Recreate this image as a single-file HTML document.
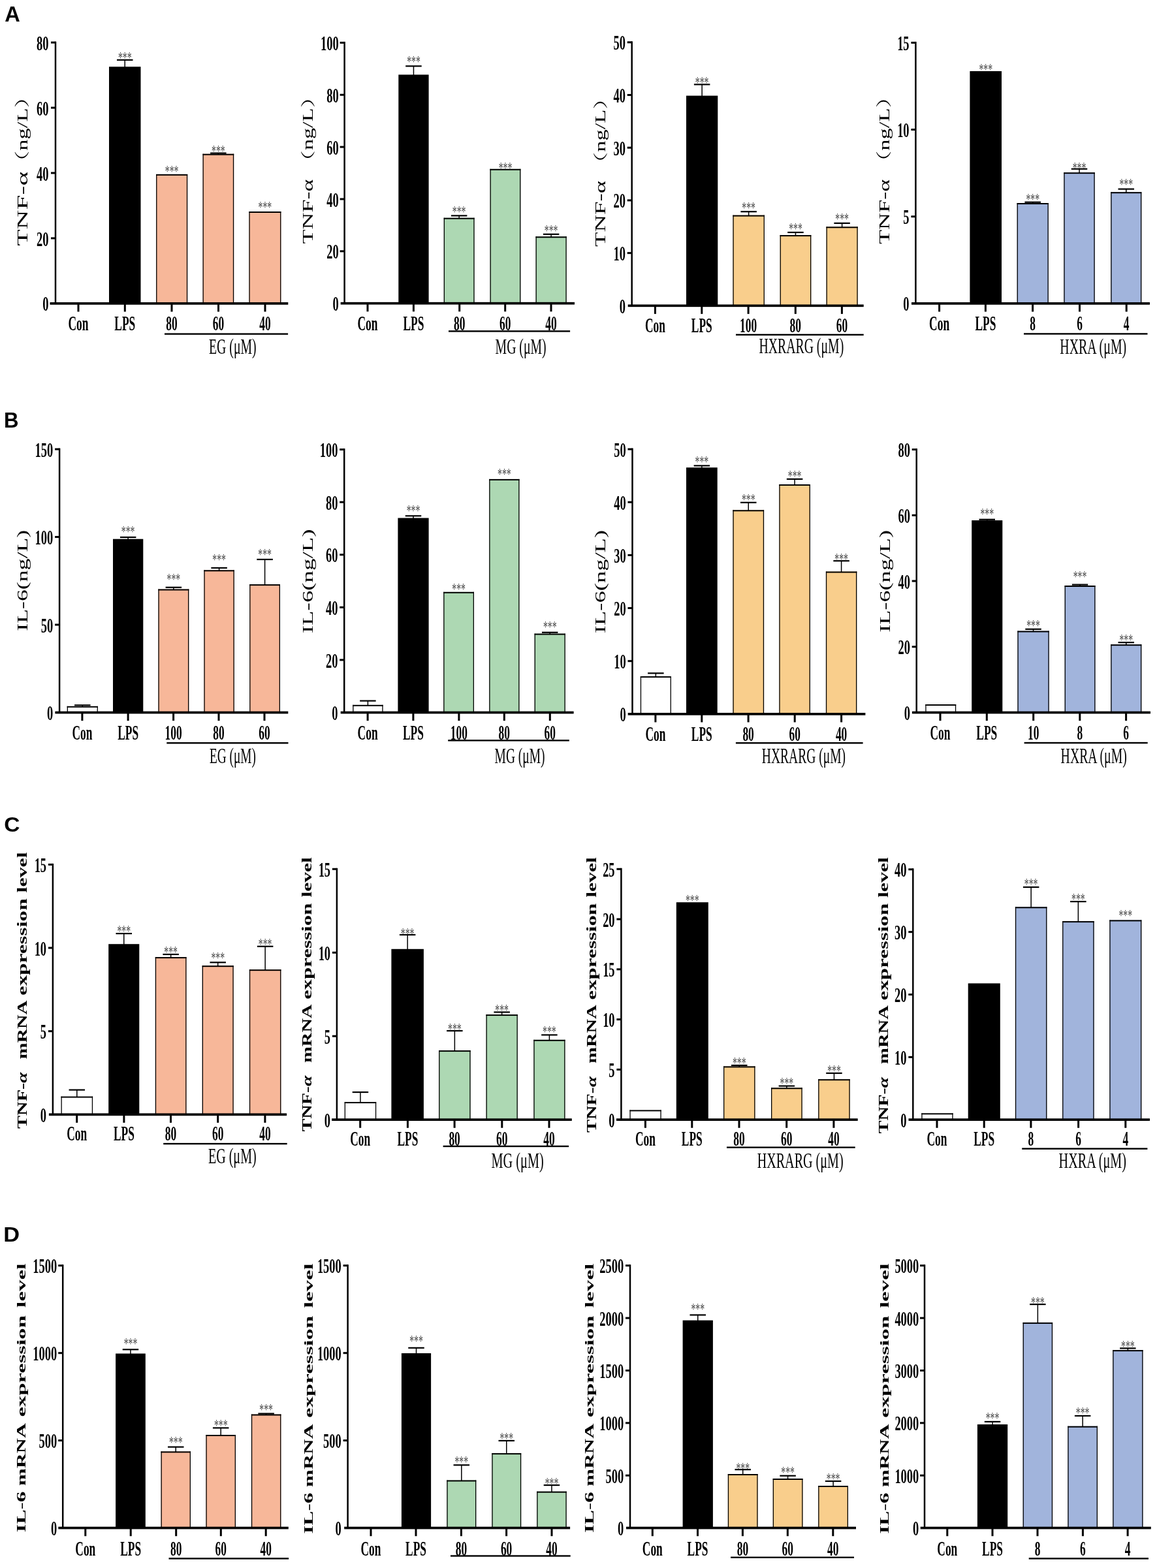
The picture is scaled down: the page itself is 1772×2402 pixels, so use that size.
<!DOCTYPE html><html><head><meta charset="utf-8"><title>Figure</title>
<style>html,body{margin:0;padding:0;background:#fff;}svg{display:block;}</style></head><body>
<svg width="1772" height="2402" viewBox="0 0 1772 2402">
<rect x="0" y="0" width="1772" height="2402" fill="#fff"/>
<text transform="matrix(0.3258,0,0,0.3338,7.2227,33.3338)" font-family="'Liberation Sans', Arial, sans-serif" font-weight="bold" font-size="100" fill="#000">A</text>
<text transform="matrix(0.3115,0,0,0.3275,6.0197,654.9)" font-family="'Liberation Sans', Arial, sans-serif" font-weight="bold" font-size="100" fill="#000">B</text>
<text transform="matrix(0.3354,0,0,0.3056,6.2585,1273.6944)" font-family="'Liberation Sans', Arial, sans-serif" font-weight="bold" font-size="100" fill="#000">C</text>
<text transform="matrix(0.3443,0,0,0.3159,5.1902,1901.9)" font-family="'Liberation Sans', Arial, sans-serif" font-weight="bold" font-size="100" fill="#000">D</text>
<g>
<rect x="167" y="102.2" width="48.5" height="362.7" fill="#000"/>
<rect x="190.5" y="91.85" width="1.5" height="11.35" fill="#000"/>
<rect x="179" y="90.75" width="24.5" height="2.2" fill="#000"/>
<rect x="239.1" y="266.9" width="48.1" height="198" fill="#F7B799"/>
<rect x="239.1" y="266.9" width="1.3" height="198" fill="#000"/>
<rect x="285.9" y="266.9" width="1.3" height="198" fill="#000"/>
<rect x="239.1" y="266.9" width="48.1" height="2" fill="#000"/>
<rect x="310.5" y="235.7" width="47.7" height="229.2" fill="#F7B799"/>
<rect x="310.5" y="235.7" width="1.3" height="229.2" fill="#000"/>
<rect x="356.9" y="235.7" width="1.3" height="229.2" fill="#000"/>
<rect x="310.5" y="235.7" width="47.7" height="2" fill="#000"/>
<rect x="333.6" y="234.6" width="1.5" height="2.1" fill="#000"/>
<rect x="322.1" y="233.5" width="24.5" height="2.2" fill="#000"/>
<rect x="381.4" y="324" width="49" height="140.9" fill="#F7B799"/>
<rect x="381.4" y="324" width="1.3" height="140.9" fill="#000"/>
<rect x="429.1" y="324" width="1.3" height="140.9" fill="#000"/>
<rect x="381.4" y="324" width="49" height="2" fill="#000"/>
<text transform="translate(191.25,97.0901) scale(0.557,1)" text-anchor="middle" font-family="'Liberation Serif', 'Times New Roman', serif" font-size="24.7" fill="#4a4a4a">***</text>
<text transform="translate(263.15,270.7901) scale(0.557,1)" text-anchor="middle" font-family="'Liberation Serif', 'Times New Roman', serif" font-size="24.7" fill="#4a4a4a">***</text>
<text transform="translate(334.35,240.2901) scale(0.557,1)" text-anchor="middle" font-family="'Liberation Serif', 'Times New Roman', serif" font-size="24.7" fill="#4a4a4a">***</text>
<text transform="translate(405.9,326.1901) scale(0.557,1)" text-anchor="middle" font-family="'Liberation Serif', 'Times New Roman', serif" font-size="24.7" fill="#4a4a4a">***</text>
<rect x="83.75" y="63.6" width="2.5" height="401.3" fill="#000"/>
<rect x="78" y="63.6" width="7" height="3.0" fill="#000"/>
<text transform="translate(74.5022,76.687) scale(0.6,1)" text-anchor="end" font-family="'Liberation Serif', 'Times New Roman', serif" font-weight="bold" font-size="30.8" fill="#000">80</text>
<rect x="78" y="163.55" width="7" height="3.0" fill="#000"/>
<text transform="translate(74.5022,176.637) scale(0.6,1)" text-anchor="end" font-family="'Liberation Serif', 'Times New Roman', serif" font-weight="bold" font-size="30.8" fill="#000">60</text>
<rect x="78" y="263.5" width="7" height="3.0" fill="#000"/>
<text transform="translate(74.5022,276.587) scale(0.6,1)" text-anchor="end" font-family="'Liberation Serif', 'Times New Roman', serif" font-weight="bold" font-size="30.8" fill="#000">40</text>
<rect x="78" y="363.45" width="7" height="3.0" fill="#000"/>
<text transform="translate(74.5022,376.537) scale(0.6,1)" text-anchor="end" font-family="'Liberation Serif', 'Times New Roman', serif" font-weight="bold" font-size="30.8" fill="#000">20</text>
<text transform="translate(74.5022,476.487) scale(0.6,1)" text-anchor="end" font-family="'Liberation Serif', 'Times New Roman', serif" font-weight="bold" font-size="30.8" fill="#000">0</text>
<rect x="76.5" y="463.05" width="364.8" height="3.7" fill="#000"/>
<rect x="118.5" y="464.9" width="3.0" height="12.6" fill="#000"/>
<rect x="189.8" y="464.9" width="3.0" height="12.6" fill="#000"/>
<rect x="261.5" y="464.9" width="3.0" height="12.6" fill="#000"/>
<rect x="333" y="464.9" width="3.0" height="12.6" fill="#000"/>
<rect x="404.5" y="464.9" width="3.0" height="12.6" fill="#000"/>
<text transform="translate(120,505.9) scale(0.562,1)" text-anchor="middle" font-family="'Liberation Serif', 'Times New Roman', serif" font-weight="bold" font-size="31.0" fill="#000">Con</text>
<text transform="translate(191.3,505.9) scale(0.562,1)" text-anchor="middle" font-family="'Liberation Serif', 'Times New Roman', serif" font-weight="bold" font-size="31.0" fill="#000">LPS</text>
<text transform="translate(263,505.9) scale(0.562,1)" text-anchor="middle" font-family="'Liberation Serif', 'Times New Roman', serif" font-weight="bold" font-size="31.0" fill="#000">80</text>
<text transform="translate(334.5,505.9) scale(0.562,1)" text-anchor="middle" font-family="'Liberation Serif', 'Times New Roman', serif" font-weight="bold" font-size="31.0" fill="#000">60</text>
<text transform="translate(406,505.9) scale(0.562,1)" text-anchor="middle" font-family="'Liberation Serif', 'Times New Roman', serif" font-weight="bold" font-size="31.0" fill="#000">40</text>
<rect x="252" y="510.4" width="189.1" height="2.4" fill="#000"/>
<text transform="translate(320.0067,542.2) scale(0.5904,1)" font-family="'Liberation Serif', 'Times New Roman', serif" font-size="33.5" fill="#000">EG (μM)</text>
<text transform="matrix(0,-0.4152,0.229,0,42.3,376.8304)" font-family="'Liberation Serif', 'Times New Roman', serif" font-weight="normal" font-size="100" fill="#000">TNF-α</text>
<text transform="matrix(0,-0.3448,0.229,0,42.3,265.1112)" font-family="'Liberation Serif', 'Noto Serif CJK SC', serif" font-weight="normal" font-size="100" fill="#000">（ng/L）</text>
</g>
<g>
<rect x="610.3" y="114.4" width="46.3" height="350.3" fill="#000"/>
<rect x="632.7" y="101.3" width="1.5" height="14.1" fill="#000"/>
<rect x="621.2" y="100.2" width="24.5" height="2.2" fill="#000"/>
<rect x="679.7" y="333.7" width="46.9" height="131" fill="#ADD8B3"/>
<rect x="679.7" y="333.7" width="1.3" height="131" fill="#000"/>
<rect x="725.3" y="333.7" width="1.3" height="131" fill="#000"/>
<rect x="679.7" y="333.7" width="46.9" height="2" fill="#000"/>
<rect x="702.4" y="330.4" width="1.5" height="4.3" fill="#000"/>
<rect x="690.9" y="329.3" width="24.5" height="2.2" fill="#000"/>
<rect x="750.5" y="258.8" width="46.9" height="205.9" fill="#ADD8B3"/>
<rect x="750.5" y="258.8" width="1.3" height="205.9" fill="#000"/>
<rect x="796.1" y="258.8" width="1.3" height="205.9" fill="#000"/>
<rect x="750.5" y="258.8" width="46.9" height="2" fill="#000"/>
<rect x="820.5" y="362.3" width="47.2" height="102.4" fill="#ADD8B3"/>
<rect x="820.5" y="362.3" width="1.3" height="102.4" fill="#000"/>
<rect x="866.4" y="362.3" width="1.3" height="102.4" fill="#000"/>
<rect x="820.5" y="362.3" width="47.2" height="2" fill="#000"/>
<rect x="843.35" y="358.8" width="1.5" height="4.5" fill="#000"/>
<rect x="831.85" y="357.7" width="24.5" height="2.2" fill="#000"/>
<text transform="translate(633.45,102.7901) scale(0.557,1)" text-anchor="middle" font-family="'Liberation Serif', 'Times New Roman', serif" font-size="24.7" fill="#4a4a4a">***</text>
<text transform="translate(703.15,332.9901) scale(0.557,1)" text-anchor="middle" font-family="'Liberation Serif', 'Times New Roman', serif" font-size="24.7" fill="#4a4a4a">***</text>
<text transform="translate(773.95,266.1901) scale(0.557,1)" text-anchor="middle" font-family="'Liberation Serif', 'Times New Roman', serif" font-size="24.7" fill="#4a4a4a">***</text>
<text transform="translate(844.1,361.5901) scale(0.557,1)" text-anchor="middle" font-family="'Liberation Serif', 'Times New Roman', serif" font-size="24.7" fill="#4a4a4a">***</text>
<rect x="526.35" y="63.9" width="2.5" height="400.8" fill="#000"/>
<rect x="520.6" y="63.9" width="7" height="3.0" fill="#000"/>
<text transform="translate(518.7022,76.987) scale(0.6,1)" text-anchor="end" font-family="'Liberation Serif', 'Times New Roman', serif" font-weight="bold" font-size="30.8" fill="#000">100</text>
<rect x="520.6" y="143.76" width="7" height="3.0" fill="#000"/>
<text transform="translate(518.7022,156.847) scale(0.6,1)" text-anchor="end" font-family="'Liberation Serif', 'Times New Roman', serif" font-weight="bold" font-size="30.8" fill="#000">80</text>
<rect x="520.6" y="223.62" width="7" height="3.0" fill="#000"/>
<text transform="translate(518.7022,236.707) scale(0.6,1)" text-anchor="end" font-family="'Liberation Serif', 'Times New Roman', serif" font-weight="bold" font-size="30.8" fill="#000">60</text>
<rect x="520.6" y="303.48" width="7" height="3.0" fill="#000"/>
<text transform="translate(518.7022,316.567) scale(0.6,1)" text-anchor="end" font-family="'Liberation Serif', 'Times New Roman', serif" font-weight="bold" font-size="30.8" fill="#000">40</text>
<rect x="520.6" y="383.34" width="7" height="3.0" fill="#000"/>
<text transform="translate(518.7022,396.427) scale(0.6,1)" text-anchor="end" font-family="'Liberation Serif', 'Times New Roman', serif" font-weight="bold" font-size="30.8" fill="#000">20</text>
<text transform="translate(518.7022,476.287) scale(0.6,1)" text-anchor="end" font-family="'Liberation Serif', 'Times New Roman', serif" font-weight="bold" font-size="30.8" fill="#000">0</text>
<rect x="521.7" y="462.85" width="358.3" height="3.7" fill="#000"/>
<rect x="561.5" y="464.7" width="3.0" height="12.6" fill="#000"/>
<rect x="631.9" y="464.7" width="3.0" height="12.6" fill="#000"/>
<rect x="702.2" y="464.7" width="3.0" height="12.6" fill="#000"/>
<rect x="772.2" y="464.7" width="3.0" height="12.6" fill="#000"/>
<rect x="842.5" y="464.7" width="3.0" height="12.6" fill="#000"/>
<text transform="translate(563,506.3) scale(0.562,1)" text-anchor="middle" font-family="'Liberation Serif', 'Times New Roman', serif" font-weight="bold" font-size="31.0" fill="#000">Con</text>
<text transform="translate(633.4,506.3) scale(0.562,1)" text-anchor="middle" font-family="'Liberation Serif', 'Times New Roman', serif" font-weight="bold" font-size="31.0" fill="#000">LPS</text>
<text transform="translate(703.7,506.3) scale(0.562,1)" text-anchor="middle" font-family="'Liberation Serif', 'Times New Roman', serif" font-weight="bold" font-size="31.0" fill="#000">80</text>
<text transform="translate(773.7,506.3) scale(0.562,1)" text-anchor="middle" font-family="'Liberation Serif', 'Times New Roman', serif" font-weight="bold" font-size="31.0" fill="#000">60</text>
<text transform="translate(844,506.3) scale(0.562,1)" text-anchor="middle" font-family="'Liberation Serif', 'Times New Roman', serif" font-weight="bold" font-size="31.0" fill="#000">40</text>
<rect x="687" y="506.2" width="186.1" height="2.4" fill="#000"/>
<text transform="translate(758.6077,542.2) scale(0.5893,1)" font-family="'Liberation Serif', 'Times New Roman', serif" font-size="33.5" fill="#000">MG (μM)</text>
<text transform="matrix(0,-0.3596,0.2214,0,479,373.4193)" font-family="'Liberation Serif', 'Times New Roman', serif" font-weight="normal" font-size="100" fill="#000">TNF-α</text>
<text transform="matrix(0,-0.3425,0.2214,0,479,264.3606)" font-family="'Liberation Serif', 'Noto Serif CJK SC', serif" font-weight="normal" font-size="100" fill="#000">（ng/L）</text>
</g>
<g>
<rect x="1051" y="146.6" width="48.3" height="321.7" fill="#000"/>
<rect x="1074.4" y="129.4" width="1.5" height="18.2" fill="#000"/>
<rect x="1062.9" y="128.3" width="24.5" height="2.2" fill="#000"/>
<rect x="1122.4" y="329.6" width="48.5" height="138.7" fill="#F9CE8C"/>
<rect x="1122.4" y="329.6" width="1.3" height="138.7" fill="#000"/>
<rect x="1169.6" y="329.6" width="1.3" height="138.7" fill="#000"/>
<rect x="1122.4" y="329.6" width="48.5" height="2" fill="#000"/>
<rect x="1145.9" y="324.2" width="1.5" height="6.4" fill="#000"/>
<rect x="1134.4" y="323.1" width="24.5" height="2.2" fill="#000"/>
<rect x="1194.6" y="360.1" width="47.7" height="108.2" fill="#F9CE8C"/>
<rect x="1194.6" y="360.1" width="1.3" height="108.2" fill="#000"/>
<rect x="1241" y="360.1" width="1.3" height="108.2" fill="#000"/>
<rect x="1194.6" y="360.1" width="47.7" height="2" fill="#000"/>
<rect x="1217.7" y="356" width="1.5" height="5.1" fill="#000"/>
<rect x="1206.2" y="354.9" width="24.5" height="2.2" fill="#000"/>
<rect x="1265.5" y="347.3" width="48.2" height="121" fill="#F9CE8C"/>
<rect x="1265.5" y="347.3" width="1.3" height="121" fill="#000"/>
<rect x="1312.4" y="347.3" width="1.3" height="121" fill="#000"/>
<rect x="1265.5" y="347.3" width="48.2" height="2" fill="#000"/>
<rect x="1288.85" y="341.9" width="1.5" height="6.4" fill="#000"/>
<rect x="1277.35" y="340.8" width="24.5" height="2.2" fill="#000"/>
<text transform="translate(1075.15,134.5901) scale(0.557,1)" text-anchor="middle" font-family="'Liberation Serif', 'Times New Roman', serif" font-size="24.7" fill="#4a4a4a">***</text>
<text transform="translate(1146.65,327.4901) scale(0.557,1)" text-anchor="middle" font-family="'Liberation Serif', 'Times New Roman', serif" font-size="24.7" fill="#4a4a4a">***</text>
<text transform="translate(1218.45,358.7901) scale(0.557,1)" text-anchor="middle" font-family="'Liberation Serif', 'Times New Roman', serif" font-size="24.7" fill="#4a4a4a">***</text>
<text transform="translate(1289.6,343.7901) scale(0.557,1)" text-anchor="middle" font-family="'Liberation Serif', 'Times New Roman', serif" font-size="24.7" fill="#4a4a4a">***</text>
<rect x="966.45" y="63.3" width="2.5" height="405" fill="#000"/>
<rect x="960.7" y="63.3" width="7" height="3.0" fill="#000"/>
<text transform="translate(958.0022,76.387) scale(0.6,1)" text-anchor="end" font-family="'Liberation Serif', 'Times New Roman', serif" font-weight="bold" font-size="30.8" fill="#000">50</text>
<rect x="960.7" y="144" width="7" height="3.0" fill="#000"/>
<text transform="translate(958.0022,157.087) scale(0.6,1)" text-anchor="end" font-family="'Liberation Serif', 'Times New Roman', serif" font-weight="bold" font-size="30.8" fill="#000">40</text>
<rect x="960.7" y="224.7" width="7" height="3.0" fill="#000"/>
<text transform="translate(958.0022,237.787) scale(0.6,1)" text-anchor="end" font-family="'Liberation Serif', 'Times New Roman', serif" font-weight="bold" font-size="30.8" fill="#000">30</text>
<rect x="960.7" y="305.4" width="7" height="3.0" fill="#000"/>
<text transform="translate(958.0022,318.487) scale(0.6,1)" text-anchor="end" font-family="'Liberation Serif', 'Times New Roman', serif" font-weight="bold" font-size="30.8" fill="#000">20</text>
<rect x="960.7" y="386.1" width="7" height="3.0" fill="#000"/>
<text transform="translate(958.0022,399.187) scale(0.6,1)" text-anchor="end" font-family="'Liberation Serif', 'Times New Roman', serif" font-weight="bold" font-size="30.8" fill="#000">10</text>
<text transform="translate(958.0022,479.887) scale(0.6,1)" text-anchor="end" font-family="'Liberation Serif', 'Times New Roman', serif" font-weight="bold" font-size="30.8" fill="#000">0</text>
<rect x="961.7" y="466.45" width="361" height="3.7" fill="#000"/>
<rect x="1001.9" y="468.3" width="3.0" height="12.6" fill="#000"/>
<rect x="1073.3" y="468.3" width="3.0" height="12.6" fill="#000"/>
<rect x="1144.6" y="468.3" width="3.0" height="12.6" fill="#000"/>
<rect x="1216.8" y="468.3" width="3.0" height="12.6" fill="#000"/>
<rect x="1287.9" y="468.3" width="3.0" height="12.6" fill="#000"/>
<text transform="translate(1003.4,509.2) scale(0.562,1)" text-anchor="middle" font-family="'Liberation Serif', 'Times New Roman', serif" font-weight="bold" font-size="31.0" fill="#000">Con</text>
<text transform="translate(1074.8,509.2) scale(0.562,1)" text-anchor="middle" font-family="'Liberation Serif', 'Times New Roman', serif" font-weight="bold" font-size="31.0" fill="#000">LPS</text>
<text transform="translate(1146.1,509.2) scale(0.562,1)" text-anchor="middle" font-family="'Liberation Serif', 'Times New Roman', serif" font-weight="bold" font-size="31.0" fill="#000">100</text>
<text transform="translate(1218.3,509.2) scale(0.562,1)" text-anchor="middle" font-family="'Liberation Serif', 'Times New Roman', serif" font-weight="bold" font-size="31.0" fill="#000">80</text>
<text transform="translate(1289.4,509.2) scale(0.562,1)" text-anchor="middle" font-family="'Liberation Serif', 'Times New Roman', serif" font-weight="bold" font-size="31.0" fill="#000">60</text>
<rect x="1127" y="511.6" width="195.7" height="2.4" fill="#000"/>
<text transform="translate(1162.4065,541.2) scale(0.5906,1)" font-family="'Liberation Serif', 'Times New Roman', serif" font-size="33.5" fill="#000">HXRARG (μM)</text>
<text transform="matrix(0,-0.3681,0.2214,0,926.8,377.9363)" font-family="'Liberation Serif', 'Times New Roman', serif" font-weight="normal" font-size="100" fill="#000">TNF-α</text>
<text transform="matrix(0,-0.3448,0.2214,0,926.8,267.3112)" font-family="'Liberation Serif', 'Noto Serif CJK SC', serif" font-weight="normal" font-size="100" fill="#000">（ng/L）</text>
</g>
<g>
<rect x="1485.4" y="109" width="48.6" height="355.9" fill="#000"/>
<rect x="1557.6" y="311" width="48.2" height="153.9" fill="#A1B4DC"/>
<rect x="1557.6" y="311" width="1.3" height="153.9" fill="#000"/>
<rect x="1604.5" y="311" width="1.3" height="153.9" fill="#000"/>
<rect x="1557.6" y="311" width="48.2" height="2" fill="#000"/>
<rect x="1580.95" y="309.7" width="1.5" height="2.3" fill="#000"/>
<rect x="1569.45" y="308.6" width="24.5" height="2.2" fill="#000"/>
<rect x="1629.3" y="264.2" width="47.4" height="200.7" fill="#A1B4DC"/>
<rect x="1629.3" y="264.2" width="1.3" height="200.7" fill="#000"/>
<rect x="1675.4" y="264.2" width="1.3" height="200.7" fill="#000"/>
<rect x="1629.3" y="264.2" width="47.4" height="2" fill="#000"/>
<rect x="1652.25" y="258.8" width="1.5" height="6.4" fill="#000"/>
<rect x="1640.75" y="257.7" width="24.5" height="2.2" fill="#000"/>
<rect x="1701.2" y="294.2" width="47.1" height="170.7" fill="#A1B4DC"/>
<rect x="1701.2" y="294.2" width="1.3" height="170.7" fill="#000"/>
<rect x="1747" y="294.2" width="1.3" height="170.7" fill="#000"/>
<rect x="1701.2" y="294.2" width="47.1" height="2" fill="#000"/>
<rect x="1724" y="289.6" width="1.5" height="5.6" fill="#000"/>
<rect x="1712.5" y="288.5" width="24.5" height="2.2" fill="#000"/>
<text transform="translate(1509.7,114.9901) scale(0.557,1)" text-anchor="middle" font-family="'Liberation Serif', 'Times New Roman', serif" font-size="24.7" fill="#4a4a4a">***</text>
<text transform="translate(1581.7,313.7901) scale(0.557,1)" text-anchor="middle" font-family="'Liberation Serif', 'Times New Roman', serif" font-size="24.7" fill="#4a4a4a">***</text>
<text transform="translate(1653,266.1901) scale(0.557,1)" text-anchor="middle" font-family="'Liberation Serif', 'Times New Roman', serif" font-size="24.7" fill="#4a4a4a">***</text>
<text transform="translate(1724.75,290.7901) scale(0.557,1)" text-anchor="middle" font-family="'Liberation Serif', 'Times New Roman', serif" font-size="24.7" fill="#4a4a4a">***</text>
<rect x="1401.15" y="63.9" width="2.5" height="401" fill="#000"/>
<rect x="1395.4" y="63.9" width="7" height="3.0" fill="#000"/>
<text transform="translate(1392.6022,76.987) scale(0.6,1)" text-anchor="end" font-family="'Liberation Serif', 'Times New Roman', serif" font-weight="bold" font-size="30.8" fill="#000">15</text>
<rect x="1395.4" y="197.0667" width="7" height="3.0" fill="#000"/>
<text transform="translate(1392.6022,210.1537) scale(0.6,1)" text-anchor="end" font-family="'Liberation Serif', 'Times New Roman', serif" font-weight="bold" font-size="30.8" fill="#000">10</text>
<rect x="1395.4" y="330.2333" width="7" height="3.0" fill="#000"/>
<text transform="translate(1392.6022,343.3203) scale(0.6,1)" text-anchor="end" font-family="'Liberation Serif', 'Times New Roman', serif" font-weight="bold" font-size="30.8" fill="#000">5</text>
<text transform="translate(1392.6022,476.487) scale(0.6,1)" text-anchor="end" font-family="'Liberation Serif', 'Times New Roman', serif" font-weight="bold" font-size="30.8" fill="#000">0</text>
<rect x="1396" y="463.05" width="365" height="3.7" fill="#000"/>
<rect x="1437.1" y="464.9" width="3.0" height="12.6" fill="#000"/>
<rect x="1507.9" y="464.9" width="3.0" height="12.6" fill="#000"/>
<rect x="1580.1" y="464.9" width="3.0" height="12.6" fill="#000"/>
<rect x="1652" y="464.9" width="3.0" height="12.6" fill="#000"/>
<rect x="1723.7" y="464.9" width="3.0" height="12.6" fill="#000"/>
<text transform="translate(1438.6,505.9) scale(0.562,1)" text-anchor="middle" font-family="'Liberation Serif', 'Times New Roman', serif" font-weight="bold" font-size="31.0" fill="#000">Con</text>
<text transform="translate(1509.4,505.9) scale(0.562,1)" text-anchor="middle" font-family="'Liberation Serif', 'Times New Roman', serif" font-weight="bold" font-size="31.0" fill="#000">LPS</text>
<text transform="translate(1581.6,505.9) scale(0.562,1)" text-anchor="middle" font-family="'Liberation Serif', 'Times New Roman', serif" font-weight="bold" font-size="31.0" fill="#000">8</text>
<text transform="translate(1653.5,505.9) scale(0.562,1)" text-anchor="middle" font-family="'Liberation Serif', 'Times New Roman', serif" font-weight="bold" font-size="31.0" fill="#000">6</text>
<text transform="translate(1725.2,505.9) scale(0.562,1)" text-anchor="middle" font-family="'Liberation Serif', 'Times New Roman', serif" font-weight="bold" font-size="31.0" fill="#000">4</text>
<rect x="1568" y="510.2" width="189.5" height="2.4" fill="#000"/>
<text transform="translate(1623.3024,542.2) scale(0.5947,1)" font-family="'Liberation Serif', 'Times New Roman', serif" font-size="33.5" fill="#000">HXRA (μM)</text>
<text transform="matrix(0,-0.3619,0.2382,0,1361.8,374.0237)" font-family="'Liberation Serif', 'Times New Roman', serif" font-weight="normal" font-size="100" fill="#000">TNF-α</text>
<text transform="matrix(0,-0.3448,0.2382,0,1361.8,265.1112)" font-family="'Liberation Serif', 'Noto Serif CJK SC', serif" font-weight="normal" font-size="100" fill="#000">（ng/L）</text>
</g>
<g>
<rect x="102.7" y="1081.8" width="47.2" height="9.7" fill="#fff"/>
<rect x="102.7" y="1081.8" width="1.3" height="9.7" fill="#000"/>
<rect x="148.6" y="1081.8" width="1.3" height="9.7" fill="#000"/>
<rect x="102.7" y="1081.8" width="47.2" height="2" fill="#000"/>
<rect x="125.55" y="1080.3" width="1.5" height="2.5" fill="#000"/>
<rect x="114.05" y="1079.2" width="24.5" height="2.2" fill="#000"/>
<rect x="173" y="825.7" width="46.3" height="265.8" fill="#000"/>
<rect x="195.4" y="823" width="1.5" height="3.7" fill="#000"/>
<rect x="183.9" y="821.9" width="24.5" height="2.2" fill="#000"/>
<rect x="242.4" y="902.5" width="46.9" height="189" fill="#F7B799"/>
<rect x="242.4" y="902.5" width="1.3" height="189" fill="#000"/>
<rect x="288" y="902.5" width="1.3" height="189" fill="#000"/>
<rect x="242.4" y="902.5" width="46.9" height="2" fill="#000"/>
<rect x="265.1" y="899.8" width="1.5" height="3.7" fill="#000"/>
<rect x="253.6" y="898.7" width="24.5" height="2.2" fill="#000"/>
<rect x="312.4" y="873.3" width="46.4" height="218.2" fill="#F7B799"/>
<rect x="312.4" y="873.3" width="1.3" height="218.2" fill="#000"/>
<rect x="357.5" y="873.3" width="1.3" height="218.2" fill="#000"/>
<rect x="312.4" y="873.3" width="46.4" height="2" fill="#000"/>
<rect x="334.85" y="870" width="1.5" height="4.3" fill="#000"/>
<rect x="323.35" y="868.9" width="24.5" height="2.2" fill="#000"/>
<rect x="382.2" y="895.1" width="46.8" height="196.4" fill="#F7B799"/>
<rect x="382.2" y="895.1" width="1.3" height="196.4" fill="#000"/>
<rect x="427.7" y="895.1" width="1.3" height="196.4" fill="#000"/>
<rect x="382.2" y="895.1" width="46.8" height="2" fill="#000"/>
<rect x="404.85" y="857" width="1.5" height="39.1" fill="#000"/>
<rect x="393.35" y="855.9" width="24.5" height="2.2" fill="#000"/>
<text transform="translate(196.15,822.9901) scale(0.557,1)" text-anchor="middle" font-family="'Liberation Serif', 'Times New Roman', serif" font-size="24.7" fill="#4a4a4a">***</text>
<text transform="translate(265.85,895.7901) scale(0.557,1)" text-anchor="middle" font-family="'Liberation Serif', 'Times New Roman', serif" font-size="24.7" fill="#4a4a4a">***</text>
<text transform="translate(335.6,865.7901) scale(0.557,1)" text-anchor="middle" font-family="'Liberation Serif', 'Times New Roman', serif" font-size="24.7" fill="#4a4a4a">***</text>
<text transform="translate(405.6,857.5901) scale(0.557,1)" text-anchor="middle" font-family="'Liberation Serif', 'Times New Roman', serif" font-size="24.7" fill="#4a4a4a">***</text>
<rect x="89.85" y="686.6" width="2.5" height="404.9" fill="#000"/>
<rect x="84.1" y="686.6" width="7" height="3.0" fill="#000"/>
<text transform="translate(81.3022,699.687) scale(0.6,1)" text-anchor="end" font-family="'Liberation Serif', 'Times New Roman', serif" font-weight="bold" font-size="30.8" fill="#000">150</text>
<rect x="84.1" y="821.0667" width="7" height="3.0" fill="#000"/>
<text transform="translate(81.3022,834.1537) scale(0.6,1)" text-anchor="end" font-family="'Liberation Serif', 'Times New Roman', serif" font-weight="bold" font-size="30.8" fill="#000">100</text>
<rect x="84.1" y="955.5333" width="7" height="3.0" fill="#000"/>
<text transform="translate(81.3022,968.6203) scale(0.6,1)" text-anchor="end" font-family="'Liberation Serif', 'Times New Roman', serif" font-weight="bold" font-size="30.8" fill="#000">50</text>
<text transform="translate(81.3022,1103.087) scale(0.6,1)" text-anchor="end" font-family="'Liberation Serif', 'Times New Roman', serif" font-weight="bold" font-size="30.8" fill="#000">0</text>
<rect x="84.4" y="1089.65" width="356.9" height="3.7" fill="#000"/>
<rect x="124.4" y="1091.5" width="3.0" height="12.6" fill="#000"/>
<rect x="194.6" y="1091.5" width="3.0" height="12.6" fill="#000"/>
<rect x="264.1" y="1091.5" width="3.0" height="12.6" fill="#000"/>
<rect x="333.5" y="1091.5" width="3.0" height="12.6" fill="#000"/>
<rect x="403.5" y="1091.5" width="3.0" height="12.6" fill="#000"/>
<text transform="translate(125.9,1132.9) scale(0.562,1)" text-anchor="middle" font-family="'Liberation Serif', 'Times New Roman', serif" font-weight="bold" font-size="31.0" fill="#000">Con</text>
<text transform="translate(196.1,1132.9) scale(0.562,1)" text-anchor="middle" font-family="'Liberation Serif', 'Times New Roman', serif" font-weight="bold" font-size="31.0" fill="#000">LPS</text>
<text transform="translate(265.6,1132.9) scale(0.562,1)" text-anchor="middle" font-family="'Liberation Serif', 'Times New Roman', serif" font-weight="bold" font-size="31.0" fill="#000">100</text>
<text transform="translate(335,1132.9) scale(0.562,1)" text-anchor="middle" font-family="'Liberation Serif', 'Times New Roman', serif" font-weight="bold" font-size="31.0" fill="#000">80</text>
<text transform="translate(405,1132.9) scale(0.562,1)" text-anchor="middle" font-family="'Liberation Serif', 'Times New Roman', serif" font-weight="bold" font-size="31.0" fill="#000">60</text>
<rect x="255.3" y="1137" width="186.2" height="2.4" fill="#000"/>
<text transform="translate(321.0208,1168.6) scale(0.5763,1)" font-family="'Liberation Serif', 'Times New Roman', serif" font-size="33.5" fill="#000">EG (μM)</text>
<text transform="matrix(0,-0.3574,0.229,0,42.2,966.6296)" font-family="'Liberation Serif', 'Times New Roman', serif" font-weight="normal" font-size="100" fill="#000">IL-6(ng/L)</text>
</g>
<g>
<rect x="540.2" y="1079.8" width="46.4" height="11.7" fill="#fff"/>
<rect x="540.2" y="1079.8" width="1.3" height="11.7" fill="#000"/>
<rect x="585.3" y="1079.8" width="1.3" height="11.7" fill="#000"/>
<rect x="540.2" y="1079.8" width="46.4" height="2" fill="#000"/>
<rect x="562.65" y="1073.6" width="1.5" height="7.2" fill="#000"/>
<rect x="551.15" y="1072.5" width="24.5" height="2.2" fill="#000"/>
<rect x="609.4" y="793.5" width="47.2" height="298" fill="#000"/>
<rect x="632.25" y="790.3" width="1.5" height="4.2" fill="#000"/>
<rect x="620.75" y="789.2" width="24.5" height="2.2" fill="#000"/>
<rect x="679.2" y="906.8" width="46.8" height="184.7" fill="#ADD8B3"/>
<rect x="679.2" y="906.8" width="1.3" height="184.7" fill="#000"/>
<rect x="724.7" y="906.8" width="1.3" height="184.7" fill="#000"/>
<rect x="679.2" y="906.8" width="46.8" height="2" fill="#000"/>
<rect x="749.2" y="733.9" width="46.3" height="357.6" fill="#ADD8B3"/>
<rect x="749.2" y="733.9" width="1.3" height="357.6" fill="#000"/>
<rect x="794.2" y="733.9" width="1.3" height="357.6" fill="#000"/>
<rect x="749.2" y="733.9" width="46.3" height="2" fill="#000"/>
<rect x="818.6" y="970.6" width="47.2" height="120.9" fill="#ADD8B3"/>
<rect x="818.6" y="970.6" width="1.3" height="120.9" fill="#000"/>
<rect x="864.5" y="970.6" width="1.3" height="120.9" fill="#000"/>
<rect x="818.6" y="970.6" width="47.2" height="2" fill="#000"/>
<rect x="841.45" y="968.8" width="1.5" height="2.8" fill="#000"/>
<rect x="829.95" y="967.7" width="24.5" height="2.2" fill="#000"/>
<text transform="translate(633,790.7901) scale(0.557,1)" text-anchor="middle" font-family="'Liberation Serif', 'Times New Roman', serif" font-size="24.7" fill="#4a4a4a">***</text>
<text transform="translate(702.6,911.2901) scale(0.557,1)" text-anchor="middle" font-family="'Liberation Serif', 'Times New Roman', serif" font-size="24.7" fill="#4a4a4a">***</text>
<text transform="translate(772.35,734.9901) scale(0.557,1)" text-anchor="middle" font-family="'Liberation Serif', 'Times New Roman', serif" font-size="24.7" fill="#4a4a4a">***</text>
<text transform="translate(842.2,969.2901) scale(0.557,1)" text-anchor="middle" font-family="'Liberation Serif', 'Times New Roman', serif" font-size="24.7" fill="#4a4a4a">***</text>
<rect x="525.95" y="687.1" width="2.5" height="404.4" fill="#000"/>
<rect x="520.2" y="687.1" width="7" height="3.0" fill="#000"/>
<text transform="translate(517.4022,700.187) scale(0.6,1)" text-anchor="end" font-family="'Liberation Serif', 'Times New Roman', serif" font-weight="bold" font-size="30.8" fill="#000">100</text>
<rect x="520.2" y="767.68" width="7" height="3.0" fill="#000"/>
<text transform="translate(517.4022,780.767) scale(0.6,1)" text-anchor="end" font-family="'Liberation Serif', 'Times New Roman', serif" font-weight="bold" font-size="30.8" fill="#000">80</text>
<rect x="520.2" y="848.26" width="7" height="3.0" fill="#000"/>
<text transform="translate(517.4022,861.347) scale(0.6,1)" text-anchor="end" font-family="'Liberation Serif', 'Times New Roman', serif" font-weight="bold" font-size="30.8" fill="#000">60</text>
<rect x="520.2" y="928.84" width="7" height="3.0" fill="#000"/>
<text transform="translate(517.4022,941.927) scale(0.6,1)" text-anchor="end" font-family="'Liberation Serif', 'Times New Roman', serif" font-weight="bold" font-size="30.8" fill="#000">40</text>
<rect x="520.2" y="1009.42" width="7" height="3.0" fill="#000"/>
<text transform="translate(517.4022,1022.507) scale(0.6,1)" text-anchor="end" font-family="'Liberation Serif', 'Times New Roman', serif" font-weight="bold" font-size="30.8" fill="#000">20</text>
<text transform="translate(517.4022,1103.087) scale(0.6,1)" text-anchor="end" font-family="'Liberation Serif', 'Times New Roman', serif" font-weight="bold" font-size="30.8" fill="#000">0</text>
<rect x="521.7" y="1089.65" width="356.9" height="3.7" fill="#000"/>
<rect x="561.6" y="1091.5" width="3.0" height="12.6" fill="#000"/>
<rect x="631.4" y="1091.5" width="3.0" height="12.6" fill="#000"/>
<rect x="701.4" y="1091.5" width="3.0" height="12.6" fill="#000"/>
<rect x="770.8" y="1091.5" width="3.0" height="12.6" fill="#000"/>
<rect x="840.8" y="1091.5" width="3.0" height="12.6" fill="#000"/>
<text transform="translate(563.1,1132.9) scale(0.562,1)" text-anchor="middle" font-family="'Liberation Serif', 'Times New Roman', serif" font-weight="bold" font-size="31.0" fill="#000">Con</text>
<text transform="translate(632.9,1132.9) scale(0.562,1)" text-anchor="middle" font-family="'Liberation Serif', 'Times New Roman', serif" font-weight="bold" font-size="31.0" fill="#000">LPS</text>
<text transform="translate(702.9,1132.9) scale(0.562,1)" text-anchor="middle" font-family="'Liberation Serif', 'Times New Roman', serif" font-weight="bold" font-size="31.0" fill="#000">100</text>
<text transform="translate(772.3,1132.9) scale(0.562,1)" text-anchor="middle" font-family="'Liberation Serif', 'Times New Roman', serif" font-weight="bold" font-size="31.0" fill="#000">80</text>
<text transform="translate(842.3,1132.9) scale(0.562,1)" text-anchor="middle" font-family="'Liberation Serif', 'Times New Roman', serif" font-weight="bold" font-size="31.0" fill="#000">60</text>
<rect x="686.2" y="1133.1" width="185.6" height="2.4" fill="#000"/>
<text transform="translate(757.6155,1168.6) scale(0.5816,1)" font-family="'Liberation Serif', 'Times New Roman', serif" font-size="33.5" fill="#000">MG (μM)</text>
<text transform="matrix(0,-0.3687,0.229,0,478.7,970.1748)" font-family="'Liberation Serif', 'Times New Roman', serif" font-weight="normal" font-size="100" fill="#000">IL-6(ng/L)</text>
</g>
<g>
<rect x="980.8" y="1036" width="47.1" height="57.8" fill="#fff"/>
<rect x="980.8" y="1036" width="1.3" height="57.8" fill="#000"/>
<rect x="1026.6" y="1036" width="1.3" height="57.8" fill="#000"/>
<rect x="980.8" y="1036" width="47.1" height="2" fill="#000"/>
<rect x="1003.6" y="1031.3" width="1.5" height="5.7" fill="#000"/>
<rect x="992.1" y="1030.2" width="24.5" height="2.2" fill="#000"/>
<rect x="1051" y="716.2" width="47.7" height="377.6" fill="#000"/>
<rect x="1074.1" y="713.4" width="1.5" height="3.8" fill="#000"/>
<rect x="1062.6" y="712.3" width="24.5" height="2.2" fill="#000"/>
<rect x="1122.4" y="781.3" width="47.7" height="312.5" fill="#F9CE8C"/>
<rect x="1122.4" y="781.3" width="1.3" height="312.5" fill="#000"/>
<rect x="1168.8" y="781.3" width="1.3" height="312.5" fill="#000"/>
<rect x="1122.4" y="781.3" width="47.7" height="2" fill="#000"/>
<rect x="1145.5" y="769.8" width="1.5" height="12.5" fill="#000"/>
<rect x="1134" y="768.7" width="24.5" height="2.2" fill="#000"/>
<rect x="1193.3" y="742" width="47.6" height="351.8" fill="#F9CE8C"/>
<rect x="1193.3" y="742" width="1.3" height="351.8" fill="#000"/>
<rect x="1239.6" y="742" width="1.3" height="351.8" fill="#000"/>
<rect x="1193.3" y="742" width="47.6" height="2" fill="#000"/>
<rect x="1216.35" y="733.9" width="1.5" height="9.1" fill="#000"/>
<rect x="1204.85" y="732.8" width="24.5" height="2.2" fill="#000"/>
<rect x="1264.9" y="875.5" width="47.4" height="218.3" fill="#F9CE8C"/>
<rect x="1264.9" y="875.5" width="1.3" height="218.3" fill="#000"/>
<rect x="1311" y="875.5" width="1.3" height="218.3" fill="#000"/>
<rect x="1264.9" y="875.5" width="47.4" height="2" fill="#000"/>
<rect x="1287.85" y="859.2" width="1.5" height="17.3" fill="#000"/>
<rect x="1276.35" y="858.1" width="24.5" height="2.2" fill="#000"/>
<text transform="translate(1074.85,715.7901) scale(0.557,1)" text-anchor="middle" font-family="'Liberation Serif', 'Times New Roman', serif" font-size="24.7" fill="#4a4a4a">***</text>
<text transform="translate(1146.25,774.4901) scale(0.557,1)" text-anchor="middle" font-family="'Liberation Serif', 'Times New Roman', serif" font-size="24.7" fill="#4a4a4a">***</text>
<text transform="translate(1217.1,738.2901) scale(0.557,1)" text-anchor="middle" font-family="'Liberation Serif', 'Times New Roman', serif" font-size="24.7" fill="#4a4a4a">***</text>
<text transform="translate(1288.6,864.8901) scale(0.557,1)" text-anchor="middle" font-family="'Liberation Serif', 'Times New Roman', serif" font-size="24.7" fill="#4a4a4a">***</text>
<rect x="967.25" y="686.6" width="2.5" height="407.2" fill="#000"/>
<rect x="961.5" y="686.6" width="7" height="3.0" fill="#000"/>
<text transform="translate(958.7022,699.687) scale(0.6,1)" text-anchor="end" font-family="'Liberation Serif', 'Times New Roman', serif" font-weight="bold" font-size="30.8" fill="#000">50</text>
<rect x="961.5" y="767.74" width="7" height="3.0" fill="#000"/>
<text transform="translate(958.7022,780.827) scale(0.6,1)" text-anchor="end" font-family="'Liberation Serif', 'Times New Roman', serif" font-weight="bold" font-size="30.8" fill="#000">40</text>
<rect x="961.5" y="848.88" width="7" height="3.0" fill="#000"/>
<text transform="translate(958.7022,861.967) scale(0.6,1)" text-anchor="end" font-family="'Liberation Serif', 'Times New Roman', serif" font-weight="bold" font-size="30.8" fill="#000">30</text>
<rect x="961.5" y="930.02" width="7" height="3.0" fill="#000"/>
<text transform="translate(958.7022,943.107) scale(0.6,1)" text-anchor="end" font-family="'Liberation Serif', 'Times New Roman', serif" font-weight="bold" font-size="30.8" fill="#000">20</text>
<rect x="961.5" y="1011.16" width="7" height="3.0" fill="#000"/>
<text transform="translate(958.7022,1024.247) scale(0.6,1)" text-anchor="end" font-family="'Liberation Serif', 'Times New Roman', serif" font-weight="bold" font-size="30.8" fill="#000">10</text>
<text transform="translate(958.7022,1105.387) scale(0.6,1)" text-anchor="end" font-family="'Liberation Serif', 'Times New Roman', serif" font-weight="bold" font-size="30.8" fill="#000">0</text>
<rect x="961.7" y="1091.95" width="363.7" height="3.7" fill="#000"/>
<rect x="1002.4" y="1093.8" width="3.0" height="12.6" fill="#000"/>
<rect x="1073.3" y="1093.8" width="3.0" height="12.6" fill="#000"/>
<rect x="1144.6" y="1093.8" width="3.0" height="12.6" fill="#000"/>
<rect x="1215.7" y="1093.8" width="3.0" height="12.6" fill="#000"/>
<rect x="1287.1" y="1093.8" width="3.0" height="12.6" fill="#000"/>
<text transform="translate(1003.9,1134.8) scale(0.562,1)" text-anchor="middle" font-family="'Liberation Serif', 'Times New Roman', serif" font-weight="bold" font-size="31.0" fill="#000">Con</text>
<text transform="translate(1074.8,1134.8) scale(0.562,1)" text-anchor="middle" font-family="'Liberation Serif', 'Times New Roman', serif" font-weight="bold" font-size="31.0" fill="#000">LPS</text>
<text transform="translate(1146.1,1134.8) scale(0.562,1)" text-anchor="middle" font-family="'Liberation Serif', 'Times New Roman', serif" font-weight="bold" font-size="31.0" fill="#000">80</text>
<text transform="translate(1217.2,1134.8) scale(0.562,1)" text-anchor="middle" font-family="'Liberation Serif', 'Times New Roman', serif" font-weight="bold" font-size="31.0" fill="#000">60</text>
<text transform="translate(1288.6,1134.8) scale(0.562,1)" text-anchor="middle" font-family="'Liberation Serif', 'Times New Roman', serif" font-weight="bold" font-size="31.0" fill="#000">40</text>
<rect x="1126.9" y="1137" width="194.7" height="2.4" fill="#000"/>
<text transform="translate(1166.8134,1168.7) scale(0.5837,1)" font-family="'Liberation Serif', 'Times New Roman', serif" font-size="33.5" fill="#000">HXRARG (μM)</text>
<text transform="matrix(0,-0.3654,0.229,0,926.9,970.1616)" font-family="'Liberation Serif', 'Times New Roman', serif" font-weight="normal" font-size="100" fill="#000">IL-6(ng/L)</text>
</g>
<g>
<rect x="1417.3" y="1079" width="46.9" height="12.5" fill="#fff"/>
<rect x="1417.3" y="1079" width="1.3" height="12.5" fill="#000"/>
<rect x="1462.9" y="1079" width="1.3" height="12.5" fill="#000"/>
<rect x="1417.3" y="1079" width="46.9" height="2" fill="#000"/>
<rect x="1488.2" y="797.1" width="47.1" height="294.4" fill="#000"/>
<rect x="1511" y="795.8" width="1.5" height="2.3" fill="#000"/>
<rect x="1499.5" y="794.7" width="24.5" height="2.2" fill="#000"/>
<rect x="1558.4" y="966.5" width="48.3" height="125" fill="#A1B4DC"/>
<rect x="1558.4" y="966.5" width="1.3" height="125" fill="#000"/>
<rect x="1605.4" y="966.5" width="1.3" height="125" fill="#000"/>
<rect x="1558.4" y="966.5" width="48.3" height="2" fill="#000"/>
<rect x="1581.8" y="963.8" width="1.5" height="3.7" fill="#000"/>
<rect x="1570.3" y="962.7" width="24.5" height="2.2" fill="#000"/>
<rect x="1630.6" y="897" width="46.9" height="194.5" fill="#A1B4DC"/>
<rect x="1630.6" y="897" width="1.3" height="194.5" fill="#000"/>
<rect x="1676.2" y="897" width="1.3" height="194.5" fill="#000"/>
<rect x="1630.6" y="897" width="46.9" height="2" fill="#000"/>
<rect x="1653.3" y="895.6" width="1.5" height="2.4" fill="#000"/>
<rect x="1641.8" y="894.5" width="24.5" height="2.2" fill="#000"/>
<rect x="1701.2" y="987.2" width="47.1" height="104.3" fill="#A1B4DC"/>
<rect x="1701.2" y="987.2" width="1.3" height="104.3" fill="#000"/>
<rect x="1747" y="987.2" width="1.3" height="104.3" fill="#000"/>
<rect x="1701.2" y="987.2" width="47.1" height="2" fill="#000"/>
<rect x="1724" y="984.2" width="1.5" height="4" fill="#000"/>
<rect x="1712.5" y="983.1" width="24.5" height="2.2" fill="#000"/>
<text transform="translate(1511.75,796.2901) scale(0.557,1)" text-anchor="middle" font-family="'Liberation Serif', 'Times New Roman', serif" font-size="24.7" fill="#4a4a4a">***</text>
<text transform="translate(1582.55,966.5901) scale(0.557,1)" text-anchor="middle" font-family="'Liberation Serif', 'Times New Roman', serif" font-size="24.7" fill="#4a4a4a">***</text>
<text transform="translate(1654.05,891.6901) scale(0.557,1)" text-anchor="middle" font-family="'Liberation Serif', 'Times New Roman', serif" font-size="24.7" fill="#4a4a4a">***</text>
<text transform="translate(1724.75,988.8901) scale(0.557,1)" text-anchor="middle" font-family="'Liberation Serif', 'Times New Roman', serif" font-size="24.7" fill="#4a4a4a">***</text>
<rect x="1402.45" y="687.1" width="2.5" height="404.4" fill="#000"/>
<rect x="1396.7" y="687.1" width="7" height="3.0" fill="#000"/>
<text transform="translate(1393.9022,700.187) scale(0.6,1)" text-anchor="end" font-family="'Liberation Serif', 'Times New Roman', serif" font-weight="bold" font-size="30.8" fill="#000">80</text>
<rect x="1396.7" y="787.825" width="7" height="3.0" fill="#000"/>
<text transform="translate(1393.9022,800.912) scale(0.6,1)" text-anchor="end" font-family="'Liberation Serif', 'Times New Roman', serif" font-weight="bold" font-size="30.8" fill="#000">60</text>
<rect x="1396.7" y="888.55" width="7" height="3.0" fill="#000"/>
<text transform="translate(1393.9022,901.637) scale(0.6,1)" text-anchor="end" font-family="'Liberation Serif', 'Times New Roman', serif" font-weight="bold" font-size="30.8" fill="#000">40</text>
<rect x="1396.7" y="989.275" width="7" height="3.0" fill="#000"/>
<text transform="translate(1393.9022,1002.362) scale(0.6,1)" text-anchor="end" font-family="'Liberation Serif', 'Times New Roman', serif" font-weight="bold" font-size="30.8" fill="#000">20</text>
<text transform="translate(1393.9022,1103.087) scale(0.6,1)" text-anchor="end" font-family="'Liberation Serif', 'Times New Roman', serif" font-weight="bold" font-size="30.8" fill="#000">0</text>
<rect x="1396.9" y="1089.65" width="365.1" height="3.7" fill="#000"/>
<rect x="1438.5" y="1091.5" width="3.0" height="12.6" fill="#000"/>
<rect x="1509.8" y="1091.5" width="3.0" height="12.6" fill="#000"/>
<rect x="1581.2" y="1091.5" width="3.0" height="12.6" fill="#000"/>
<rect x="1652.3" y="1091.5" width="3.0" height="12.6" fill="#000"/>
<rect x="1723.1" y="1091.5" width="3.0" height="12.6" fill="#000"/>
<text transform="translate(1440,1132.9) scale(0.562,1)" text-anchor="middle" font-family="'Liberation Serif', 'Times New Roman', serif" font-weight="bold" font-size="31.0" fill="#000">Con</text>
<text transform="translate(1511.3,1132.9) scale(0.562,1)" text-anchor="middle" font-family="'Liberation Serif', 'Times New Roman', serif" font-weight="bold" font-size="31.0" fill="#000">LPS</text>
<text transform="translate(1582.7,1132.9) scale(0.562,1)" text-anchor="middle" font-family="'Liberation Serif', 'Times New Roman', serif" font-weight="bold" font-size="31.0" fill="#000">10</text>
<text transform="translate(1653.8,1132.9) scale(0.562,1)" text-anchor="middle" font-family="'Liberation Serif', 'Times New Roman', serif" font-weight="bold" font-size="31.0" fill="#000">8</text>
<text transform="translate(1724.6,1132.9) scale(0.562,1)" text-anchor="middle" font-family="'Liberation Serif', 'Times New Roman', serif" font-weight="bold" font-size="31.0" fill="#000">6</text>
<rect x="1568.6" y="1136.8" width="189.1" height="2.4" fill="#000"/>
<text transform="translate(1624.6065,1168.6) scale(0.5905,1)" font-family="'Liberation Serif', 'Times New Roman', serif" font-size="33.5" fill="#000">HXRA (μM)</text>
<text transform="matrix(0,-0.3621,0.229,0,1363.4,968.7485)" font-family="'Liberation Serif', 'Times New Roman', serif" font-weight="normal" font-size="100" fill="#000">IL-6(ng/L)</text>
</g>
<g>
<rect x="93.5" y="1679.6" width="48.6" height="27.7" fill="#fff"/>
<rect x="93.5" y="1679.6" width="1.3" height="27.7" fill="#000"/>
<rect x="140.8" y="1679.6" width="1.3" height="27.7" fill="#000"/>
<rect x="93.5" y="1679.6" width="48.6" height="2" fill="#000"/>
<rect x="117.05" y="1669.6" width="1.5" height="11" fill="#000"/>
<rect x="105.55" y="1668.5" width="24.5" height="2.2" fill="#000"/>
<rect x="166.2" y="1446.2" width="47.1" height="261.1" fill="#000"/>
<rect x="189" y="1430.1" width="1.5" height="17.1" fill="#000"/>
<rect x="177.5" y="1429" width="24.5" height="2.2" fill="#000"/>
<rect x="237.8" y="1466.1" width="47.7" height="241.2" fill="#F7B799"/>
<rect x="237.8" y="1466.1" width="1.3" height="241.2" fill="#000"/>
<rect x="284.2" y="1466.1" width="1.3" height="241.2" fill="#000"/>
<rect x="237.8" y="1466.1" width="47.7" height="2" fill="#000"/>
<rect x="260.9" y="1462" width="1.5" height="5.1" fill="#000"/>
<rect x="249.4" y="1460.9" width="24.5" height="2.2" fill="#000"/>
<rect x="309.7" y="1479.2" width="48" height="228.1" fill="#F7B799"/>
<rect x="309.7" y="1479.2" width="1.3" height="228.1" fill="#000"/>
<rect x="356.4" y="1479.2" width="1.3" height="228.1" fill="#000"/>
<rect x="309.7" y="1479.2" width="48" height="2" fill="#000"/>
<rect x="332.95" y="1474.3" width="1.5" height="5.9" fill="#000"/>
<rect x="321.45" y="1473.2" width="24.5" height="2.2" fill="#000"/>
<rect x="381.9" y="1485.2" width="48.5" height="222.1" fill="#F7B799"/>
<rect x="381.9" y="1485.2" width="1.3" height="222.1" fill="#000"/>
<rect x="429.1" y="1485.2" width="1.3" height="222.1" fill="#000"/>
<rect x="381.9" y="1485.2" width="48.5" height="2" fill="#000"/>
<rect x="405.4" y="1449.8" width="1.5" height="36.4" fill="#000"/>
<rect x="393.9" y="1448.7" width="24.5" height="2.2" fill="#000"/>
<text transform="translate(189.75,1435.3901) scale(0.557,1)" text-anchor="middle" font-family="'Liberation Serif', 'Times New Roman', serif" font-size="24.7" fill="#4a4a4a">***</text>
<text transform="translate(261.65,1466.7901) scale(0.557,1)" text-anchor="middle" font-family="'Liberation Serif', 'Times New Roman', serif" font-size="24.7" fill="#4a4a4a">***</text>
<text transform="translate(333.7,1476.2901) scale(0.557,1)" text-anchor="middle" font-family="'Liberation Serif', 'Times New Roman', serif" font-size="24.7" fill="#4a4a4a">***</text>
<text transform="translate(406.15,1454.9901) scale(0.557,1)" text-anchor="middle" font-family="'Liberation Serif', 'Times New Roman', serif" font-size="24.7" fill="#4a4a4a">***</text>
<rect x="79.65" y="1322.9" width="2.5" height="384.4" fill="#000"/>
<rect x="73.9" y="1322.9" width="7" height="3.0" fill="#000"/>
<text transform="translate(71.1022,1335.987) scale(0.6,1)" text-anchor="end" font-family="'Liberation Serif', 'Times New Roman', serif" font-weight="bold" font-size="30.8" fill="#000">15</text>
<rect x="73.9" y="1450.5333" width="7" height="3.0" fill="#000"/>
<text transform="translate(71.1022,1463.6203) scale(0.6,1)" text-anchor="end" font-family="'Liberation Serif', 'Times New Roman', serif" font-weight="bold" font-size="30.8" fill="#000">10</text>
<rect x="73.9" y="1578.1667" width="7" height="3.0" fill="#000"/>
<text transform="translate(71.1022,1591.2537) scale(0.6,1)" text-anchor="end" font-family="'Liberation Serif', 'Times New Roman', serif" font-weight="bold" font-size="30.8" fill="#000">5</text>
<text transform="translate(71.1022,1718.887) scale(0.6,1)" text-anchor="end" font-family="'Liberation Serif', 'Times New Roman', serif" font-weight="bold" font-size="30.8" fill="#000">0</text>
<rect x="74.9" y="1705.45" width="364.2" height="3.7" fill="#000"/>
<rect x="116.2" y="1707.3" width="3.0" height="12.6" fill="#000"/>
<rect x="188.4" y="1707.3" width="3.0" height="12.6" fill="#000"/>
<rect x="260" y="1707.3" width="3.0" height="12.6" fill="#000"/>
<rect x="332.2" y="1707.3" width="3.0" height="12.6" fill="#000"/>
<rect x="404.4" y="1707.3" width="3.0" height="12.6" fill="#000"/>
<text transform="translate(117.7,1747.2) scale(0.562,1)" text-anchor="middle" font-family="'Liberation Serif', 'Times New Roman', serif" font-weight="bold" font-size="31.0" fill="#000">Con</text>
<text transform="translate(189.9,1747.2) scale(0.562,1)" text-anchor="middle" font-family="'Liberation Serif', 'Times New Roman', serif" font-weight="bold" font-size="31.0" fill="#000">LPS</text>
<text transform="translate(261.5,1747.2) scale(0.562,1)" text-anchor="middle" font-family="'Liberation Serif', 'Times New Roman', serif" font-weight="bold" font-size="31.0" fill="#000">80</text>
<text transform="translate(333.7,1747.2) scale(0.562,1)" text-anchor="middle" font-family="'Liberation Serif', 'Times New Roman', serif" font-weight="bold" font-size="31.0" fill="#000">60</text>
<text transform="translate(405.9,1747.2) scale(0.562,1)" text-anchor="middle" font-family="'Liberation Serif', 'Times New Roman', serif" font-weight="bold" font-size="31.0" fill="#000">40</text>
<rect x="250.2" y="1750.9" width="189.5" height="2.4" fill="#000"/>
<text transform="translate(318.8975,1781.6) scale(0.5995,1)" font-family="'Liberation Serif', 'Times New Roman', serif" font-size="33.5" fill="#000">EG (μM)</text>
<text transform="matrix(0,-0.3003,0.2092,0,41.1,1729.0006)" font-family="'Liberation Serif', 'Times New Roman', serif" font-weight="bold" font-size="100" fill="#000">TNF-<tspan font-style="italic">α</tspan></text>
<text transform="matrix(0,-0.3005,0.2092,0,41.1,1622.6201)" font-family="'Liberation Serif', 'Times New Roman', serif" font-weight="bold" font-size="100" fill="#000">mRNA</text>
<text transform="matrix(0,-0.3317,0.2092,0,41.1,1524.9897)" font-family="'Liberation Serif', 'Times New Roman', serif" font-weight="bold" font-size="100" fill="#000">expression</text>
<text transform="matrix(0,-0.3188,0.2092,0,41.1,1367.4198)" font-family="'Liberation Serif', 'Times New Roman', serif" font-weight="bold" font-size="100" fill="#000">level</text>
</g>
<g>
<rect x="527.7" y="1688.1" width="48.5" height="27.1" fill="#fff"/>
<rect x="527.7" y="1688.1" width="1.3" height="27.1" fill="#000"/>
<rect x="574.9" y="1688.1" width="1.3" height="27.1" fill="#000"/>
<rect x="527.7" y="1688.1" width="48.5" height="2" fill="#000"/>
<rect x="551.2" y="1673.1" width="1.5" height="16" fill="#000"/>
<rect x="539.7" y="1672" width="24.5" height="2.2" fill="#000"/>
<rect x="599.4" y="1453.8" width="49.5" height="261.4" fill="#000"/>
<rect x="623.4" y="1432" width="1.5" height="22.8" fill="#000"/>
<rect x="611.9" y="1430.9" width="24.5" height="2.2" fill="#000"/>
<rect x="672.1" y="1609.1" width="48.5" height="106.1" fill="#ADD8B3"/>
<rect x="672.1" y="1609.1" width="1.3" height="106.1" fill="#000"/>
<rect x="719.3" y="1609.1" width="1.3" height="106.1" fill="#000"/>
<rect x="672.1" y="1609.1" width="48.5" height="2" fill="#000"/>
<rect x="695.6" y="1579.1" width="1.5" height="31" fill="#000"/>
<rect x="684.1" y="1578" width="24.5" height="2.2" fill="#000"/>
<rect x="744.5" y="1554.1" width="48.3" height="161.1" fill="#ADD8B3"/>
<rect x="744.5" y="1554.1" width="1.3" height="161.1" fill="#000"/>
<rect x="791.5" y="1554.1" width="1.3" height="161.1" fill="#000"/>
<rect x="744.5" y="1554.1" width="48.3" height="2" fill="#000"/>
<rect x="767.9" y="1550.5" width="1.5" height="4.6" fill="#000"/>
<rect x="756.4" y="1549.4" width="24.5" height="2.2" fill="#000"/>
<rect x="817.3" y="1592.8" width="48.2" height="122.4" fill="#ADD8B3"/>
<rect x="817.3" y="1592.8" width="1.3" height="122.4" fill="#000"/>
<rect x="864.2" y="1592.8" width="1.3" height="122.4" fill="#000"/>
<rect x="817.3" y="1592.8" width="48.2" height="2" fill="#000"/>
<rect x="840.65" y="1585.4" width="1.5" height="8.4" fill="#000"/>
<rect x="829.15" y="1584.3" width="24.5" height="2.2" fill="#000"/>
<text transform="translate(624.15,1439.4901) scale(0.557,1)" text-anchor="middle" font-family="'Liberation Serif', 'Times New Roman', serif" font-size="24.7" fill="#4a4a4a">***</text>
<text transform="translate(696.35,1585.1901) scale(0.557,1)" text-anchor="middle" font-family="'Liberation Serif', 'Times New Roman', serif" font-size="24.7" fill="#4a4a4a">***</text>
<text transform="translate(768.65,1556.0901) scale(0.557,1)" text-anchor="middle" font-family="'Liberation Serif', 'Times New Roman', serif" font-size="24.7" fill="#4a4a4a">***</text>
<text transform="translate(841.4,1588.7901) scale(0.557,1)" text-anchor="middle" font-family="'Liberation Serif', 'Times New Roman', serif" font-size="24.7" fill="#4a4a4a">***</text>
<rect x="514.65" y="1329.8" width="2.5" height="385.4" fill="#000"/>
<rect x="508.9" y="1329.8" width="7" height="3.0" fill="#000"/>
<text transform="translate(506.1022,1342.887) scale(0.6,1)" text-anchor="end" font-family="'Liberation Serif', 'Times New Roman', serif" font-weight="bold" font-size="30.8" fill="#000">15</text>
<rect x="508.9" y="1457.7667" width="7" height="3.0" fill="#000"/>
<text transform="translate(506.1022,1470.8537) scale(0.6,1)" text-anchor="end" font-family="'Liberation Serif', 'Times New Roman', serif" font-weight="bold" font-size="30.8" fill="#000">10</text>
<rect x="508.9" y="1585.7333" width="7" height="3.0" fill="#000"/>
<text transform="translate(506.1022,1598.8203) scale(0.6,1)" text-anchor="end" font-family="'Liberation Serif', 'Times New Roman', serif" font-weight="bold" font-size="30.8" fill="#000">5</text>
<text transform="translate(506.1022,1726.787) scale(0.6,1)" text-anchor="end" font-family="'Liberation Serif', 'Times New Roman', serif" font-weight="bold" font-size="30.8" fill="#000">0</text>
<rect x="508.1" y="1713.35" width="367.7" height="3.7" fill="#000"/>
<rect x="550.2" y="1715.2" width="3.0" height="12.6" fill="#000"/>
<rect x="622.9" y="1715.2" width="3.0" height="12.6" fill="#000"/>
<rect x="694.6" y="1715.2" width="3.0" height="12.6" fill="#000"/>
<rect x="767.3" y="1715.2" width="3.0" height="12.6" fill="#000"/>
<rect x="839.5" y="1715.2" width="3.0" height="12.6" fill="#000"/>
<text transform="translate(551.7,1754.9) scale(0.562,1)" text-anchor="middle" font-family="'Liberation Serif', 'Times New Roman', serif" font-weight="bold" font-size="31.0" fill="#000">Con</text>
<text transform="translate(624.4,1754.9) scale(0.562,1)" text-anchor="middle" font-family="'Liberation Serif', 'Times New Roman', serif" font-weight="bold" font-size="31.0" fill="#000">LPS</text>
<text transform="translate(696.1,1754.9) scale(0.562,1)" text-anchor="middle" font-family="'Liberation Serif', 'Times New Roman', serif" font-weight="bold" font-size="31.0" fill="#000">80</text>
<text transform="translate(768.8,1754.9) scale(0.562,1)" text-anchor="middle" font-family="'Liberation Serif', 'Times New Roman', serif" font-weight="bold" font-size="31.0" fill="#000">60</text>
<text transform="translate(841,1754.9) scale(0.562,1)" text-anchor="middle" font-family="'Liberation Serif', 'Times New Roman', serif" font-weight="bold" font-size="31.0" fill="#000">40</text>
<rect x="678.6" y="1754.8" width="192.5" height="2.4" fill="#000"/>
<text transform="translate(752.5923,1789) scale(0.6047,1)" font-family="'Liberation Serif', 'Times New Roman', serif" font-size="33.5" fill="#000">MG (μM)</text>
<text transform="matrix(0,-0.2982,0.2092,0,476.8,1733.5963)" font-family="'Liberation Serif', 'Times New Roman', serif" font-weight="bold" font-size="100" fill="#000">TNF-<tspan font-style="italic">α</tspan></text>
<text transform="matrix(0,-0.2983,0.2092,0,476.8,1627.9712)" font-family="'Liberation Serif', 'Times New Roman', serif" font-weight="bold" font-size="100" fill="#000">mRNA</text>
<text transform="matrix(0,-0.3294,0.2092,0,476.8,1531.034)" font-family="'Liberation Serif', 'Times New Roman', serif" font-weight="bold" font-size="100" fill="#000">expression</text>
<text transform="matrix(0,-0.3165,0.2092,0,476.8,1374.5829)" font-family="'Liberation Serif', 'Times New Roman', serif" font-weight="bold" font-size="100" fill="#000">level</text>
</g>
<g>
<rect x="964.4" y="1700.4" width="48.3" height="14.8" fill="#fff"/>
<rect x="964.4" y="1700.4" width="1.3" height="14.8" fill="#000"/>
<rect x="1011.4" y="1700.4" width="1.3" height="14.8" fill="#000"/>
<rect x="964.4" y="1700.4" width="48.3" height="2" fill="#000"/>
<rect x="1035.8" y="1382.2" width="49" height="333" fill="#000"/>
<rect x="1108" y="1633.4" width="48.5" height="81.8" fill="#F9CE8C"/>
<rect x="1108" y="1633.4" width="1.3" height="81.8" fill="#000"/>
<rect x="1155.2" y="1633.4" width="1.3" height="81.8" fill="#000"/>
<rect x="1108" y="1633.4" width="48.5" height="2" fill="#000"/>
<rect x="1131.5" y="1632" width="1.5" height="2.4" fill="#000"/>
<rect x="1120" y="1630.9" width="24.5" height="2.2" fill="#000"/>
<rect x="1181" y="1666.3" width="47.7" height="48.9" fill="#F9CE8C"/>
<rect x="1181" y="1666.3" width="1.3" height="48.9" fill="#000"/>
<rect x="1227.4" y="1666.3" width="1.3" height="48.9" fill="#000"/>
<rect x="1181" y="1666.3" width="47.7" height="2" fill="#000"/>
<rect x="1204.1" y="1663.6" width="1.5" height="3.7" fill="#000"/>
<rect x="1192.6" y="1662.5" width="24.5" height="2.2" fill="#000"/>
<rect x="1253.2" y="1653.2" width="48.5" height="62" fill="#F9CE8C"/>
<rect x="1253.2" y="1653.2" width="1.3" height="62" fill="#000"/>
<rect x="1300.4" y="1653.2" width="1.3" height="62" fill="#000"/>
<rect x="1253.2" y="1653.2" width="48.5" height="2" fill="#000"/>
<rect x="1276.7" y="1644" width="1.5" height="10.2" fill="#000"/>
<rect x="1265.2" y="1642.9" width="24.5" height="2.2" fill="#000"/>
<text transform="translate(1060.3,1387.7901) scale(0.557,1)" text-anchor="middle" font-family="'Liberation Serif', 'Times New Roman', serif" font-size="24.7" fill="#4a4a4a">***</text>
<text transform="translate(1132.25,1636.9901) scale(0.557,1)" text-anchor="middle" font-family="'Liberation Serif', 'Times New Roman', serif" font-size="24.7" fill="#4a4a4a">***</text>
<text transform="translate(1204.85,1668.2901) scale(0.557,1)" text-anchor="middle" font-family="'Liberation Serif', 'Times New Roman', serif" font-size="24.7" fill="#4a4a4a">***</text>
<text transform="translate(1277.45,1649.1901) scale(0.557,1)" text-anchor="middle" font-family="'Liberation Serif', 'Times New Roman', serif" font-size="24.7" fill="#4a4a4a">***</text>
<rect x="950.15" y="1329.8" width="2.5" height="385.4" fill="#000"/>
<rect x="944.4" y="1329.8" width="7" height="3.0" fill="#000"/>
<text transform="translate(941.6022,1342.887) scale(0.6,1)" text-anchor="end" font-family="'Liberation Serif', 'Times New Roman', serif" font-weight="bold" font-size="30.8" fill="#000">25</text>
<rect x="944.4" y="1406.58" width="7" height="3.0" fill="#000"/>
<text transform="translate(941.6022,1419.667) scale(0.6,1)" text-anchor="end" font-family="'Liberation Serif', 'Times New Roman', serif" font-weight="bold" font-size="30.8" fill="#000">20</text>
<rect x="944.4" y="1483.36" width="7" height="3.0" fill="#000"/>
<text transform="translate(941.6022,1496.447) scale(0.6,1)" text-anchor="end" font-family="'Liberation Serif', 'Times New Roman', serif" font-weight="bold" font-size="30.8" fill="#000">15</text>
<rect x="944.4" y="1560.14" width="7" height="3.0" fill="#000"/>
<text transform="translate(941.6022,1573.227) scale(0.6,1)" text-anchor="end" font-family="'Liberation Serif', 'Times New Roman', serif" font-weight="bold" font-size="30.8" fill="#000">10</text>
<rect x="944.4" y="1636.92" width="7" height="3.0" fill="#000"/>
<text transform="translate(941.6022,1650.007) scale(0.6,1)" text-anchor="end" font-family="'Liberation Serif', 'Times New Roman', serif" font-weight="bold" font-size="30.8" fill="#000">5</text>
<text transform="translate(941.6022,1726.787) scale(0.6,1)" text-anchor="end" font-family="'Liberation Serif', 'Times New Roman', serif" font-weight="bold" font-size="30.8" fill="#000">0</text>
<rect x="944" y="1713.35" width="369.7" height="3.7" fill="#000"/>
<rect x="986.9" y="1715.2" width="3.0" height="12.6" fill="#000"/>
<rect x="1058.3" y="1715.2" width="3.0" height="12.6" fill="#000"/>
<rect x="1130.5" y="1715.2" width="3.0" height="12.6" fill="#000"/>
<rect x="1203.2" y="1715.2" width="3.0" height="12.6" fill="#000"/>
<rect x="1275.4" y="1715.2" width="3.0" height="12.6" fill="#000"/>
<text transform="translate(988.4,1754.9) scale(0.562,1)" text-anchor="middle" font-family="'Liberation Serif', 'Times New Roman', serif" font-weight="bold" font-size="31.0" fill="#000">Con</text>
<text transform="translate(1059.8,1754.9) scale(0.562,1)" text-anchor="middle" font-family="'Liberation Serif', 'Times New Roman', serif" font-weight="bold" font-size="31.0" fill="#000">LPS</text>
<text transform="translate(1132,1754.9) scale(0.562,1)" text-anchor="middle" font-family="'Liberation Serif', 'Times New Roman', serif" font-weight="bold" font-size="31.0" fill="#000">80</text>
<text transform="translate(1204.7,1754.9) scale(0.562,1)" text-anchor="middle" font-family="'Liberation Serif', 'Times New Roman', serif" font-weight="bold" font-size="31.0" fill="#000">60</text>
<text transform="translate(1276.9,1754.9) scale(0.562,1)" text-anchor="middle" font-family="'Liberation Serif', 'Times New Roman', serif" font-weight="bold" font-size="31.0" fill="#000">40</text>
<rect x="1113" y="1756.5" width="196.7" height="2.4" fill="#000"/>
<text transform="translate(1159.6968,1789) scale(0.6002,1)" font-family="'Liberation Serif', 'Times New Roman', serif" font-size="33.5" fill="#000">HXRARG (μM)</text>
<text transform="matrix(0,-0.2992,0.2092,0,912.7,1734.9983)" font-family="'Liberation Serif', 'Times New Roman', serif" font-weight="bold" font-size="100" fill="#000">TNF-<tspan font-style="italic">α</tspan></text>
<text transform="matrix(0,-0.2993,0.2092,0,912.7,1629.0207)" font-family="'Liberation Serif', 'Times New Roman', serif" font-weight="bold" font-size="100" fill="#000">mRNA</text>
<text transform="matrix(0,-0.3305,0.2092,0,912.7,1531.76)" font-family="'Liberation Serif', 'Times New Roman', serif" font-weight="bold" font-size="100" fill="#000">expression</text>
<text transform="matrix(0,-0.3175,0.2092,0,912.7,1374.7868)" font-family="'Liberation Serif', 'Times New Roman', serif" font-weight="bold" font-size="100" fill="#000">level</text>
</g>
<g>
<rect x="1411.3" y="1705.3" width="48.3" height="9.9" fill="#fff"/>
<rect x="1411.3" y="1705.3" width="1.3" height="9.9" fill="#000"/>
<rect x="1458.3" y="1705.3" width="1.3" height="9.9" fill="#000"/>
<rect x="1411.3" y="1705.3" width="48.3" height="2" fill="#000"/>
<rect x="1482.7" y="1506.4" width="49.1" height="208.8" fill="#000"/>
<rect x="1554.9" y="1389.3" width="48.5" height="325.9" fill="#A1B4DC"/>
<rect x="1554.9" y="1389.3" width="1.3" height="325.9" fill="#000"/>
<rect x="1602.1" y="1389.3" width="1.3" height="325.9" fill="#000"/>
<rect x="1554.9" y="1389.3" width="48.5" height="2" fill="#000"/>
<rect x="1578.4" y="1359" width="1.5" height="31.3" fill="#000"/>
<rect x="1566.9" y="1357.9" width="24.5" height="2.2" fill="#000"/>
<rect x="1627.1" y="1411.1" width="48.5" height="304.1" fill="#A1B4DC"/>
<rect x="1627.1" y="1411.1" width="1.3" height="304.1" fill="#000"/>
<rect x="1674.3" y="1411.1" width="1.3" height="304.1" fill="#000"/>
<rect x="1627.1" y="1411.1" width="48.5" height="2" fill="#000"/>
<rect x="1650.6" y="1381.1" width="1.5" height="31" fill="#000"/>
<rect x="1639.1" y="1380" width="24.5" height="2.2" fill="#000"/>
<rect x="1699.3" y="1409.4" width="49" height="305.8" fill="#A1B4DC"/>
<rect x="1699.3" y="1409.4" width="1.3" height="305.8" fill="#000"/>
<rect x="1747" y="1409.4" width="1.3" height="305.8" fill="#000"/>
<rect x="1699.3" y="1409.4" width="49" height="2" fill="#000"/>
<text transform="translate(1579.15,1363.1901) scale(0.557,1)" text-anchor="middle" font-family="'Liberation Serif', 'Times New Roman', serif" font-size="24.7" fill="#4a4a4a">***</text>
<text transform="translate(1651.35,1385.7901) scale(0.557,1)" text-anchor="middle" font-family="'Liberation Serif', 'Times New Roman', serif" font-size="24.7" fill="#4a4a4a">***</text>
<text transform="translate(1723.8,1410.8901) scale(0.557,1)" text-anchor="middle" font-family="'Liberation Serif', 'Times New Roman', serif" font-size="24.7" fill="#4a4a4a">***</text>
<rect x="1397.05" y="1330.3" width="2.5" height="384.9" fill="#000"/>
<rect x="1391.3" y="1330.3" width="7" height="3.0" fill="#000"/>
<text transform="translate(1388.5022,1343.387) scale(0.6,1)" text-anchor="end" font-family="'Liberation Serif', 'Times New Roman', serif" font-weight="bold" font-size="30.8" fill="#000">40</text>
<rect x="1391.3" y="1426.15" width="7" height="3.0" fill="#000"/>
<text transform="translate(1388.5022,1439.237) scale(0.6,1)" text-anchor="end" font-family="'Liberation Serif', 'Times New Roman', serif" font-weight="bold" font-size="30.8" fill="#000">30</text>
<rect x="1391.3" y="1522" width="7" height="3.0" fill="#000"/>
<text transform="translate(1388.5022,1535.087) scale(0.6,1)" text-anchor="end" font-family="'Liberation Serif', 'Times New Roman', serif" font-weight="bold" font-size="30.8" fill="#000">20</text>
<rect x="1391.3" y="1617.85" width="7" height="3.0" fill="#000"/>
<text transform="translate(1388.5022,1630.937) scale(0.6,1)" text-anchor="end" font-family="'Liberation Serif', 'Times New Roman', serif" font-weight="bold" font-size="30.8" fill="#000">10</text>
<text transform="translate(1388.5022,1726.787) scale(0.6,1)" text-anchor="end" font-family="'Liberation Serif', 'Times New Roman', serif" font-weight="bold" font-size="30.8" fill="#000">0</text>
<rect x="1391.5" y="1713.35" width="369.5" height="3.7" fill="#000"/>
<rect x="1433.5" y="1715.2" width="3.0" height="12.6" fill="#000"/>
<rect x="1505.7" y="1715.2" width="3.0" height="12.6" fill="#000"/>
<rect x="1577.4" y="1715.2" width="3.0" height="12.6" fill="#000"/>
<rect x="1650.1" y="1715.2" width="3.0" height="12.6" fill="#000"/>
<rect x="1722.3" y="1715.2" width="3.0" height="12.6" fill="#000"/>
<text transform="translate(1435,1754.6) scale(0.562,1)" text-anchor="middle" font-family="'Liberation Serif', 'Times New Roman', serif" font-weight="bold" font-size="31.0" fill="#000">Con</text>
<text transform="translate(1507.2,1754.6) scale(0.562,1)" text-anchor="middle" font-family="'Liberation Serif', 'Times New Roman', serif" font-weight="bold" font-size="31.0" fill="#000">LPS</text>
<text transform="translate(1578.9,1754.6) scale(0.562,1)" text-anchor="middle" font-family="'Liberation Serif', 'Times New Roman', serif" font-weight="bold" font-size="31.0" fill="#000">8</text>
<text transform="translate(1651.6,1754.6) scale(0.562,1)" text-anchor="middle" font-family="'Liberation Serif', 'Times New Roman', serif" font-weight="bold" font-size="31.0" fill="#000">6</text>
<text transform="translate(1723.8,1754.6) scale(0.562,1)" text-anchor="middle" font-family="'Liberation Serif', 'Times New Roman', serif" font-weight="bold" font-size="31.0" fill="#000">4</text>
<rect x="1565.2" y="1758.5" width="192.2" height="2.4" fill="#000"/>
<text transform="translate(1621.5947,1789) scale(0.6023,1)" font-family="'Liberation Serif', 'Times New Roman', serif" font-size="33.5" fill="#000">HXRA (μM)</text>
<text transform="matrix(0,-0.3002,0.2092,0,1359.5,1736.4003)" font-family="'Liberation Serif', 'Times New Roman', serif" font-weight="bold" font-size="100" fill="#000">TNF-<tspan font-style="italic">α</tspan></text>
<text transform="matrix(0,-0.3003,0.2092,0,1359.5,1630.0702)" font-family="'Liberation Serif', 'Times New Roman', serif" font-weight="bold" font-size="100" fill="#000">mRNA</text>
<text transform="matrix(0,-0.3316,0.2092,0,1359.5,1532.4859)" font-family="'Liberation Serif', 'Times New Roman', serif" font-weight="bold" font-size="100" fill="#000">expression</text>
<text transform="matrix(0,-0.3186,0.2092,0,1359.5,1374.9906)" font-family="'Liberation Serif', 'Times New Roman', serif" font-weight="bold" font-size="100" fill="#000">level</text>
</g>
<g>
<rect x="177.1" y="2073.5" width="45.7" height="267.1" fill="#000"/>
<rect x="199.2" y="2067.3" width="1.5" height="7.2" fill="#000"/>
<rect x="187.7" y="2066.2" width="24.5" height="2.2" fill="#000"/>
<rect x="246.5" y="2223.4" width="45.5" height="117.2" fill="#F7B799"/>
<rect x="246.5" y="2223.4" width="1.3" height="117.2" fill="#000"/>
<rect x="290.7" y="2223.4" width="1.3" height="117.2" fill="#000"/>
<rect x="246.5" y="2223.4" width="45.5" height="2" fill="#000"/>
<rect x="268.5" y="2216.6" width="1.5" height="7.8" fill="#000"/>
<rect x="257" y="2215.5" width="24.5" height="2.2" fill="#000"/>
<rect x="315.4" y="2198" width="45.6" height="142.6" fill="#F7B799"/>
<rect x="315.4" y="2198" width="1.3" height="142.6" fill="#000"/>
<rect x="359.7" y="2198" width="1.3" height="142.6" fill="#000"/>
<rect x="315.4" y="2198" width="45.6" height="2" fill="#000"/>
<rect x="337.45" y="2187.4" width="1.5" height="11.6" fill="#000"/>
<rect x="325.95" y="2186.3" width="24.5" height="2.2" fill="#000"/>
<rect x="384.9" y="2166.5" width="45.5" height="174.1" fill="#F7B799"/>
<rect x="384.9" y="2166.5" width="1.3" height="174.1" fill="#000"/>
<rect x="429.1" y="2166.5" width="1.3" height="174.1" fill="#000"/>
<rect x="384.9" y="2166.5" width="45.5" height="2" fill="#000"/>
<rect x="406.9" y="2165.5" width="1.5" height="2" fill="#000"/>
<rect x="395.4" y="2164.4" width="24.5" height="2.2" fill="#000"/>
<text transform="translate(199.95,2067.3901) scale(0.557,1)" text-anchor="middle" font-family="'Liberation Serif', 'Times New Roman', serif" font-size="24.7" fill="#4a4a4a">***</text>
<text transform="translate(269.25,2217.9901) scale(0.557,1)" text-anchor="middle" font-family="'Liberation Serif', 'Times New Roman', serif" font-size="24.7" fill="#4a4a4a">***</text>
<text transform="translate(338.2,2192.0901) scale(0.557,1)" text-anchor="middle" font-family="'Liberation Serif', 'Times New Roman', serif" font-size="24.7" fill="#4a4a4a">***</text>
<text transform="translate(407.65,2168.0901) scale(0.557,1)" text-anchor="middle" font-family="'Liberation Serif', 'Times New Roman', serif" font-size="24.7" fill="#4a4a4a">***</text>
<rect x="94.95" y="1937.2" width="2.5" height="403.4" fill="#000"/>
<rect x="89.2" y="1937.2" width="7" height="3.0" fill="#000"/>
<text transform="translate(87.2022,1950.287) scale(0.6,1)" text-anchor="end" font-family="'Liberation Serif', 'Times New Roman', serif" font-weight="bold" font-size="30.8" fill="#000">1500</text>
<rect x="89.2" y="2071.1667" width="7" height="3.0" fill="#000"/>
<text transform="translate(87.2022,2084.2537) scale(0.6,1)" text-anchor="end" font-family="'Liberation Serif', 'Times New Roman', serif" font-weight="bold" font-size="30.8" fill="#000">1000</text>
<rect x="89.2" y="2205.1333" width="7" height="3.0" fill="#000"/>
<text transform="translate(87.2022,2218.2203) scale(0.6,1)" text-anchor="end" font-family="'Liberation Serif', 'Times New Roman', serif" font-weight="bold" font-size="30.8" fill="#000">500</text>
<text transform="translate(87.2022,2352.187) scale(0.6,1)" text-anchor="end" font-family="'Liberation Serif', 'Times New Roman', serif" font-weight="bold" font-size="30.8" fill="#000">0</text>
<rect x="89.3" y="2338.75" width="352.5" height="3.7" fill="#000"/>
<rect x="129.3" y="2340.6" width="3.0" height="12.6" fill="#000"/>
<rect x="198.7" y="2340.6" width="3.0" height="12.6" fill="#000"/>
<rect x="268.2" y="2340.6" width="3.0" height="12.6" fill="#000"/>
<rect x="336.8" y="2340.6" width="3.0" height="12.6" fill="#000"/>
<rect x="405.7" y="2340.6" width="3.0" height="12.6" fill="#000"/>
<text transform="translate(130.8,2382.6) scale(0.562,1)" text-anchor="middle" font-family="'Liberation Serif', 'Times New Roman', serif" font-weight="bold" font-size="31.0" fill="#000">Con</text>
<text transform="translate(200.2,2382.6) scale(0.562,1)" text-anchor="middle" font-family="'Liberation Serif', 'Times New Roman', serif" font-weight="bold" font-size="31.0" fill="#000">LPS</text>
<text transform="translate(269.7,2382.6) scale(0.562,1)" text-anchor="middle" font-family="'Liberation Serif', 'Times New Roman', serif" font-weight="bold" font-size="31.0" fill="#000">80</text>
<text transform="translate(338.3,2382.6) scale(0.562,1)" text-anchor="middle" font-family="'Liberation Serif', 'Times New Roman', serif" font-weight="bold" font-size="31.0" fill="#000">60</text>
<text transform="translate(407.2,2382.6) scale(0.562,1)" text-anchor="middle" font-family="'Liberation Serif', 'Times New Roman', serif" font-weight="bold" font-size="31.0" fill="#000">40</text>
<rect x="258.5" y="2386.3" width="183.7" height="2.4" fill="#000"/>
<text transform="matrix(0,-0.3327,0.1985,0,39.2,2347.3982)" font-family="'Liberation Serif', 'Times New Roman', serif" font-weight="bold" font-size="100" fill="#000">IL-6</text>
<text transform="matrix(0,-0.3203,0.1985,0,39.2,2275.9575)" font-family="'Liberation Serif', 'Times New Roman', serif" font-weight="bold" font-size="100" fill="#000">mRNA</text>
<text transform="matrix(0,-0.3471,0.1985,0,39.2,2170.5547)" font-family="'Liberation Serif', 'Times New Roman', serif" font-weight="bold" font-size="100" fill="#000">expression</text>
<text transform="matrix(0,-0.3498,0.1985,0,39.2,2003.3041)" font-family="'Liberation Serif', 'Times New Roman', serif" font-weight="bold" font-size="100" fill="#000">level</text>
</g>
<g>
<rect x="614.9" y="2073" width="45.2" height="267.6" fill="#000"/>
<rect x="636.75" y="2064.8" width="1.5" height="9.2" fill="#000"/>
<rect x="625.25" y="2063.7" width="24.5" height="2.2" fill="#000"/>
<rect x="684.3" y="2267.5" width="45" height="73.1" fill="#ADD8B3"/>
<rect x="684.3" y="2267.5" width="1.3" height="73.1" fill="#000"/>
<rect x="728" y="2267.5" width="1.3" height="73.1" fill="#000"/>
<rect x="684.3" y="2267.5" width="45" height="2" fill="#000"/>
<rect x="706.05" y="2244.3" width="1.5" height="24.2" fill="#000"/>
<rect x="694.55" y="2243.2" width="24.5" height="2.2" fill="#000"/>
<rect x="753.3" y="2226.1" width="44.9" height="114.5" fill="#ADD8B3"/>
<rect x="753.3" y="2226.1" width="1.3" height="114.5" fill="#000"/>
<rect x="796.9" y="2226.1" width="1.3" height="114.5" fill="#000"/>
<rect x="753.3" y="2226.1" width="44.9" height="2" fill="#000"/>
<rect x="775" y="2207" width="1.5" height="20.1" fill="#000"/>
<rect x="763.5" y="2205.9" width="24.5" height="2.2" fill="#000"/>
<rect x="822.2" y="2284.7" width="45.5" height="55.9" fill="#ADD8B3"/>
<rect x="822.2" y="2284.7" width="1.3" height="55.9" fill="#000"/>
<rect x="866.4" y="2284.7" width="1.3" height="55.9" fill="#000"/>
<rect x="822.2" y="2284.7" width="45.5" height="2" fill="#000"/>
<rect x="844.2" y="2275.1" width="1.5" height="10.6" fill="#000"/>
<rect x="832.7" y="2274" width="24.5" height="2.2" fill="#000"/>
<text transform="translate(637.5,2063.3901) scale(0.557,1)" text-anchor="middle" font-family="'Liberation Serif', 'Times New Roman', serif" font-size="24.7" fill="#4a4a4a">***</text>
<text transform="translate(706.8,2247.9901) scale(0.557,1)" text-anchor="middle" font-family="'Liberation Serif', 'Times New Roman', serif" font-size="24.7" fill="#4a4a4a">***</text>
<text transform="translate(775.75,2212.2901) scale(0.557,1)" text-anchor="middle" font-family="'Liberation Serif', 'Times New Roman', serif" font-size="24.7" fill="#4a4a4a">***</text>
<text transform="translate(844.95,2280.5901) scale(0.557,1)" text-anchor="middle" font-family="'Liberation Serif', 'Times New Roman', serif" font-size="24.7" fill="#4a4a4a">***</text>
<rect x="531.35" y="1937.2" width="2.5" height="403.4" fill="#000"/>
<rect x="525.6" y="1937.2" width="7" height="3.0" fill="#000"/>
<text transform="translate(522.8022,1950.287) scale(0.6,1)" text-anchor="end" font-family="'Liberation Serif', 'Times New Roman', serif" font-weight="bold" font-size="30.8" fill="#000">1500</text>
<rect x="525.6" y="2071.1667" width="7" height="3.0" fill="#000"/>
<text transform="translate(522.8022,2084.2537) scale(0.6,1)" text-anchor="end" font-family="'Liberation Serif', 'Times New Roman', serif" font-weight="bold" font-size="30.8" fill="#000">1000</text>
<rect x="525.6" y="2205.1333" width="7" height="3.0" fill="#000"/>
<text transform="translate(522.8022,2218.2203) scale(0.6,1)" text-anchor="end" font-family="'Liberation Serif', 'Times New Roman', serif" font-weight="bold" font-size="30.8" fill="#000">500</text>
<text transform="translate(522.8022,2352.187) scale(0.6,1)" text-anchor="end" font-family="'Liberation Serif', 'Times New Roman', serif" font-weight="bold" font-size="30.8" fill="#000">0</text>
<rect x="527.2" y="2338.75" width="345.9" height="3.7" fill="#000"/>
<rect x="566.5" y="2340.6" width="3.0" height="12.6" fill="#000"/>
<rect x="635.5" y="2340.6" width="3.0" height="12.6" fill="#000"/>
<rect x="704.9" y="2340.6" width="3.0" height="12.6" fill="#000"/>
<rect x="774.1" y="2340.6" width="3.0" height="12.6" fill="#000"/>
<rect x="843.5" y="2340.6" width="3.0" height="12.6" fill="#000"/>
<text transform="translate(568,2382.6) scale(0.562,1)" text-anchor="middle" font-family="'Liberation Serif', 'Times New Roman', serif" font-weight="bold" font-size="31.0" fill="#000">Con</text>
<text transform="translate(637,2382.6) scale(0.562,1)" text-anchor="middle" font-family="'Liberation Serif', 'Times New Roman', serif" font-weight="bold" font-size="31.0" fill="#000">LPS</text>
<text transform="translate(706.4,2382.6) scale(0.562,1)" text-anchor="middle" font-family="'Liberation Serif', 'Times New Roman', serif" font-weight="bold" font-size="31.0" fill="#000">80</text>
<text transform="translate(775.6,2382.6) scale(0.562,1)" text-anchor="middle" font-family="'Liberation Serif', 'Times New Roman', serif" font-weight="bold" font-size="31.0" fill="#000">60</text>
<text transform="translate(845,2382.6) scale(0.562,1)" text-anchor="middle" font-family="'Liberation Serif', 'Times New Roman', serif" font-weight="bold" font-size="31.0" fill="#000">40</text>
<rect x="690" y="2382.3" width="183.7" height="2.4" fill="#000"/>
<text transform="matrix(0,-0.3344,0.1985,0,478.5,2349.7033)" font-family="'Liberation Serif', 'Times New Roman', serif" font-weight="bold" font-size="100" fill="#000">IL-6</text>
<text transform="matrix(0,-0.3219,0.1985,0,478.5,2277.8973)" font-family="'Liberation Serif', 'Times New Roman', serif" font-weight="bold" font-size="100" fill="#000">mRNA</text>
<text transform="matrix(0,-0.3488,0.1985,0,478.5,2171.9554)" font-family="'Liberation Serif', 'Times New Roman', serif" font-weight="bold" font-size="100" fill="#000">expression</text>
<text transform="matrix(0,-0.3516,0.1985,0,478.5,2003.8494)" font-family="'Liberation Serif', 'Times New Roman', serif" font-weight="bold" font-size="100" fill="#000">level</text>
</g>
<g>
<rect x="1045.6" y="2022.6" width="46.3" height="318" fill="#000"/>
<rect x="1068" y="2014.4" width="1.5" height="9.2" fill="#000"/>
<rect x="1056.5" y="2013.3" width="24.5" height="2.2" fill="#000"/>
<rect x="1114.8" y="2258" width="45.8" height="82.6" fill="#F9CE8C"/>
<rect x="1114.8" y="2258" width="1.3" height="82.6" fill="#000"/>
<rect x="1159.3" y="2258" width="1.3" height="82.6" fill="#000"/>
<rect x="1114.8" y="2258" width="45.8" height="2" fill="#000"/>
<rect x="1136.95" y="2251.2" width="1.5" height="7.8" fill="#000"/>
<rect x="1125.45" y="2250.1" width="24.5" height="2.2" fill="#000"/>
<rect x="1183.7" y="2265" width="45.8" height="75.6" fill="#F9CE8C"/>
<rect x="1183.7" y="2265" width="1.3" height="75.6" fill="#000"/>
<rect x="1228.2" y="2265" width="1.3" height="75.6" fill="#000"/>
<rect x="1183.7" y="2265" width="45.8" height="2" fill="#000"/>
<rect x="1205.85" y="2260.7" width="1.5" height="5.3" fill="#000"/>
<rect x="1194.35" y="2259.6" width="24.5" height="2.2" fill="#000"/>
<rect x="1253.2" y="2276" width="45.8" height="64.6" fill="#F9CE8C"/>
<rect x="1253.2" y="2276" width="1.3" height="64.6" fill="#000"/>
<rect x="1297.7" y="2276" width="1.3" height="64.6" fill="#000"/>
<rect x="1253.2" y="2276" width="45.8" height="2" fill="#000"/>
<rect x="1275.35" y="2269" width="1.5" height="8" fill="#000"/>
<rect x="1263.85" y="2267.9" width="24.5" height="2.2" fill="#000"/>
<text transform="translate(1068.75,2013.6901) scale(0.557,1)" text-anchor="middle" font-family="'Liberation Serif', 'Times New Roman', serif" font-size="24.7" fill="#4a4a4a">***</text>
<text transform="translate(1137.7,2257.9901) scale(0.557,1)" text-anchor="middle" font-family="'Liberation Serif', 'Times New Roman', serif" font-size="24.7" fill="#4a4a4a">***</text>
<text transform="translate(1206.6,2263.9901) scale(0.557,1)" text-anchor="middle" font-family="'Liberation Serif', 'Times New Roman', serif" font-size="24.7" fill="#4a4a4a">***</text>
<text transform="translate(1276.1,2273.7901) scale(0.557,1)" text-anchor="middle" font-family="'Liberation Serif', 'Times New Roman', serif" font-size="24.7" fill="#4a4a4a">***</text>
<rect x="963.75" y="1937.2" width="2.5" height="403.4" fill="#000"/>
<rect x="958" y="1937.2" width="7" height="3.0" fill="#000"/>
<text transform="translate(955.2022,1950.287) scale(0.6,1)" text-anchor="end" font-family="'Liberation Serif', 'Times New Roman', serif" font-weight="bold" font-size="30.8" fill="#000">2500</text>
<rect x="958" y="2017.58" width="7" height="3.0" fill="#000"/>
<text transform="translate(955.2022,2030.667) scale(0.6,1)" text-anchor="end" font-family="'Liberation Serif', 'Times New Roman', serif" font-weight="bold" font-size="30.8" fill="#000">2000</text>
<rect x="958" y="2097.96" width="7" height="3.0" fill="#000"/>
<text transform="translate(955.2022,2111.047) scale(0.6,1)" text-anchor="end" font-family="'Liberation Serif', 'Times New Roman', serif" font-weight="bold" font-size="30.8" fill="#000">1500</text>
<rect x="958" y="2178.34" width="7" height="3.0" fill="#000"/>
<text transform="translate(955.2022,2191.427) scale(0.6,1)" text-anchor="end" font-family="'Liberation Serif', 'Times New Roman', serif" font-weight="bold" font-size="30.8" fill="#000">1000</text>
<rect x="958" y="2258.72" width="7" height="3.0" fill="#000"/>
<text transform="translate(955.2022,2271.807) scale(0.6,1)" text-anchor="end" font-family="'Liberation Serif', 'Times New Roman', serif" font-weight="bold" font-size="30.8" fill="#000">500</text>
<text transform="translate(955.2022,2352.187) scale(0.6,1)" text-anchor="end" font-family="'Liberation Serif', 'Times New Roman', serif" font-weight="bold" font-size="30.8" fill="#000">0</text>
<rect x="959" y="2338.75" width="352" height="3.7" fill="#000"/>
<rect x="997.8" y="2340.6" width="3.0" height="12.6" fill="#000"/>
<rect x="1067" y="2340.6" width="3.0" height="12.6" fill="#000"/>
<rect x="1135.9" y="2340.6" width="3.0" height="12.6" fill="#000"/>
<rect x="1204.8" y="2340.6" width="3.0" height="12.6" fill="#000"/>
<rect x="1274.3" y="2340.6" width="3.0" height="12.6" fill="#000"/>
<text transform="translate(999.3,2382.6) scale(0.562,1)" text-anchor="middle" font-family="'Liberation Serif', 'Times New Roman', serif" font-weight="bold" font-size="31.0" fill="#000">Con</text>
<text transform="translate(1068.5,2382.6) scale(0.562,1)" text-anchor="middle" font-family="'Liberation Serif', 'Times New Roman', serif" font-weight="bold" font-size="31.0" fill="#000">LPS</text>
<text transform="translate(1137.4,2382.6) scale(0.562,1)" text-anchor="middle" font-family="'Liberation Serif', 'Times New Roman', serif" font-weight="bold" font-size="31.0" fill="#000">80</text>
<text transform="translate(1206.3,2382.6) scale(0.562,1)" text-anchor="middle" font-family="'Liberation Serif', 'Times New Roman', serif" font-weight="bold" font-size="31.0" fill="#000">60</text>
<text transform="translate(1275.8,2382.6) scale(0.562,1)" text-anchor="middle" font-family="'Liberation Serif', 'Times New Roman', serif" font-weight="bold" font-size="31.0" fill="#000">40</text>
<rect x="1119.1" y="2384.6" width="188.9" height="2.4" fill="#000"/>
<text transform="matrix(0,-0.3333,0.1985,0,908.6,2348.2999)" font-family="'Liberation Serif', 'Times New Roman', serif" font-weight="bold" font-size="100" fill="#000">IL-6</text>
<text transform="matrix(0,-0.3208,0.1985,0,908.6,2276.7375)" font-family="'Liberation Serif', 'Times New Roman', serif" font-weight="bold" font-size="100" fill="#000">mRNA</text>
<text transform="matrix(0,-0.3477,0.1985,0,908.6,2171.1549)" font-family="'Liberation Serif', 'Times New Roman', serif" font-weight="bold" font-size="100" fill="#000">expression</text>
<text transform="matrix(0,-0.3504,0.1985,0,908.6,2003.6192)" font-family="'Liberation Serif', 'Times New Roman', serif" font-weight="bold" font-size="100" fill="#000">level</text>
</g>
<g>
<rect x="1496.9" y="2182" width="46.3" height="158.6" fill="#000"/>
<rect x="1519.3" y="2177.9" width="1.5" height="5.1" fill="#000"/>
<rect x="1507.8" y="2176.8" width="24.5" height="2.2" fill="#000"/>
<rect x="1566.6" y="2025.9" width="45.5" height="314.7" fill="#A1B4DC"/>
<rect x="1566.6" y="2025.9" width="1.3" height="314.7" fill="#000"/>
<rect x="1610.8" y="2025.9" width="1.3" height="314.7" fill="#000"/>
<rect x="1566.6" y="2025.9" width="45.5" height="2" fill="#000"/>
<rect x="1588.6" y="1998.1" width="1.5" height="28.8" fill="#000"/>
<rect x="1577.1" y="1997" width="24.5" height="2.2" fill="#000"/>
<rect x="1635.3" y="2184.7" width="45.7" height="155.9" fill="#A1B4DC"/>
<rect x="1635.3" y="2184.7" width="1.3" height="155.9" fill="#000"/>
<rect x="1679.7" y="2184.7" width="1.3" height="155.9" fill="#000"/>
<rect x="1635.3" y="2184.7" width="45.7" height="2" fill="#000"/>
<rect x="1657.4" y="2168.9" width="1.5" height="16.8" fill="#000"/>
<rect x="1645.9" y="2167.8" width="24.5" height="2.2" fill="#000"/>
<rect x="1704.2" y="2068.1" width="46.3" height="272.5" fill="#A1B4DC"/>
<rect x="1704.2" y="2068.1" width="1.3" height="272.5" fill="#000"/>
<rect x="1749.2" y="2068.1" width="1.3" height="272.5" fill="#000"/>
<rect x="1704.2" y="2068.1" width="46.3" height="2" fill="#000"/>
<rect x="1726.6" y="2065.4" width="1.5" height="3.7" fill="#000"/>
<rect x="1715.1" y="2064.3" width="24.5" height="2.2" fill="#000"/>
<text transform="translate(1520.05,2180.9901) scale(0.557,1)" text-anchor="middle" font-family="'Liberation Serif', 'Times New Roman', serif" font-size="24.7" fill="#4a4a4a">***</text>
<text transform="translate(1589.35,2003.8901) scale(0.557,1)" text-anchor="middle" font-family="'Liberation Serif', 'Times New Roman', serif" font-size="24.7" fill="#4a4a4a">***</text>
<text transform="translate(1658.15,2172.7901) scale(0.557,1)" text-anchor="middle" font-family="'Liberation Serif', 'Times New Roman', serif" font-size="24.7" fill="#4a4a4a">***</text>
<text transform="translate(1727.35,2070.8901) scale(0.557,1)" text-anchor="middle" font-family="'Liberation Serif', 'Times New Roman', serif" font-size="24.7" fill="#4a4a4a">***</text>
<rect x="1414.75" y="1937.2" width="2.5" height="403.4" fill="#000"/>
<rect x="1409" y="1937.2" width="7" height="3.0" fill="#000"/>
<text transform="translate(1407.3022,1950.287) scale(0.6,1)" text-anchor="end" font-family="'Liberation Serif', 'Times New Roman', serif" font-weight="bold" font-size="30.8" fill="#000">5000</text>
<rect x="1409" y="2017.58" width="7" height="3.0" fill="#000"/>
<text transform="translate(1407.3022,2030.667) scale(0.6,1)" text-anchor="end" font-family="'Liberation Serif', 'Times New Roman', serif" font-weight="bold" font-size="30.8" fill="#000">4000</text>
<rect x="1409" y="2097.96" width="7" height="3.0" fill="#000"/>
<text transform="translate(1407.3022,2111.047) scale(0.6,1)" text-anchor="end" font-family="'Liberation Serif', 'Times New Roman', serif" font-weight="bold" font-size="30.8" fill="#000">3000</text>
<rect x="1409" y="2178.34" width="7" height="3.0" fill="#000"/>
<text transform="translate(1407.3022,2191.427) scale(0.6,1)" text-anchor="end" font-family="'Liberation Serif', 'Times New Roman', serif" font-weight="bold" font-size="30.8" fill="#000">2000</text>
<rect x="1409" y="2258.72" width="7" height="3.0" fill="#000"/>
<text transform="translate(1407.3022,2271.807) scale(0.6,1)" text-anchor="end" font-family="'Liberation Serif', 'Times New Roman', serif" font-weight="bold" font-size="30.8" fill="#000">1000</text>
<text transform="translate(1407.3022,2352.187) scale(0.6,1)" text-anchor="end" font-family="'Liberation Serif', 'Times New Roman', serif" font-weight="bold" font-size="30.8" fill="#000">0</text>
<rect x="1409.7" y="2338.75" width="353.1" height="3.7" fill="#000"/>
<rect x="1449.3" y="2340.6" width="3.0" height="12.6" fill="#000"/>
<rect x="1518.5" y="2340.6" width="3.0" height="12.6" fill="#000"/>
<rect x="1587.5" y="2340.6" width="3.0" height="12.6" fill="#000"/>
<rect x="1656.9" y="2340.6" width="3.0" height="12.6" fill="#000"/>
<rect x="1725.6" y="2340.6" width="3.0" height="12.6" fill="#000"/>
<text transform="translate(1450.8,2382.6) scale(0.562,1)" text-anchor="middle" font-family="'Liberation Serif', 'Times New Roman', serif" font-weight="bold" font-size="31.0" fill="#000">Con</text>
<text transform="translate(1520,2382.6) scale(0.562,1)" text-anchor="middle" font-family="'Liberation Serif', 'Times New Roman', serif" font-weight="bold" font-size="31.0" fill="#000">LPS</text>
<text transform="translate(1589,2382.6) scale(0.562,1)" text-anchor="middle" font-family="'Liberation Serif', 'Times New Roman', serif" font-weight="bold" font-size="31.0" fill="#000">8</text>
<text transform="translate(1658.4,2382.6) scale(0.562,1)" text-anchor="middle" font-family="'Liberation Serif', 'Times New Roman', serif" font-weight="bold" font-size="31.0" fill="#000">6</text>
<text transform="translate(1727.1,2382.6) scale(0.562,1)" text-anchor="middle" font-family="'Liberation Serif', 'Times New Roman', serif" font-weight="bold" font-size="31.0" fill="#000">4</text>
<rect x="1575.7" y="2386.3" width="183.3" height="2.4" fill="#000"/>
<text transform="matrix(0,-0.3344,0.1985,0,1361.3,2349.7033)" font-family="'Liberation Serif', 'Times New Roman', serif" font-weight="bold" font-size="100" fill="#000">IL-6</text>
<text transform="matrix(0,-0.3219,0.1985,0,1361.3,2277.8973)" font-family="'Liberation Serif', 'Times New Roman', serif" font-weight="bold" font-size="100" fill="#000">mRNA</text>
<text transform="matrix(0,-0.3488,0.1985,0,1361.3,2171.9554)" font-family="'Liberation Serif', 'Times New Roman', serif" font-weight="bold" font-size="100" fill="#000">expression</text>
<text transform="matrix(0,-0.3516,0.1985,0,1361.3,2003.8494)" font-family="'Liberation Serif', 'Times New Roman', serif" font-weight="bold" font-size="100" fill="#000">level</text>
</g>
</svg></body></html>
